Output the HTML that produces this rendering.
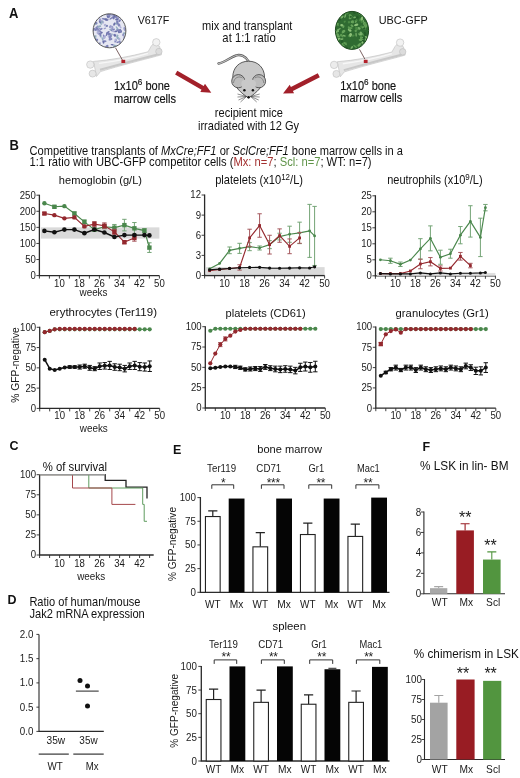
<!DOCTYPE html><html><head><meta charset="utf-8"><style>html,body{margin:0;padding:0;background:#fff;}svg{display:block;font-family:"Liberation Sans",sans-serif;filter:blur(0.35px);}</style></head><body><svg width="520" height="778" viewBox="0 0 520 778" font-family="Liberation Sans, sans-serif">
<rect width="520" height="778" fill="#fff"/>
<text transform="translate(9.00,17.60) scale(1,1.08)" font-size="13" font-weight="bold" fill="#111">A</text>
<g transform="translate(0,0)"><path d="M93.5,61.4 C110,60.2 130,56.6 148,51.8 L151.2,46.2 L153.5,43.6 L159.6,46.4 L161.4,54.8 C150,58.2 128,63.2 100.5,71.6 L96.5,76.5 Z" fill="#e6e6e6" stroke="#bdbdbd" stroke-width="0.6"/><path d="M100,69.8 C124,63.2 146,57.4 159.5,54" stroke="#c8c8c8" stroke-width="2.0" fill="none"/><path d="M99,63.4 C118,61 134,57.8 148,53.4" stroke="#f7f7f7" stroke-width="1.4" fill="none"/><circle cx="90.3" cy="64.6" r="3.7" fill="#ececec" stroke="#bdbdbd" stroke-width="0.6"/><circle cx="92.6" cy="73.6" r="3.5" fill="#e6e6e6" stroke="#bdbdbd" stroke-width="0.6"/><circle cx="156.3" cy="42.3" r="3.7" fill="#f2f2f2" stroke="#bdbdbd" stroke-width="0.6"/><circle cx="158.9" cy="51.5" r="3.2" fill="#dcdcdc" stroke="#bdbdbd" stroke-width="0.6"/></g>
<clipPath id="c1"><ellipse cx="109.5" cy="30.8" rx="16.4" ry="17.0"/></clipPath>
<ellipse cx="109.5" cy="30.8" rx="16.4" ry="17.0" fill="#e6e7f2"/>
<g clip-path="url(#c1)">
<ellipse cx="103.7" cy="18.9" rx="2.1" ry="0.8" fill="#8286bb" transform="rotate(9 103.7 18.9)"/>
<ellipse cx="112.2" cy="44.7" rx="1.6" ry="0.7" fill="#6a6fa8" transform="rotate(7 112.2 44.7)"/>
<ellipse cx="96.1" cy="28.2" rx="1.4" ry="1.1" fill="#aeb1d6" transform="rotate(22 96.1 28.2)"/>
<ellipse cx="124.2" cy="33.4" rx="1.4" ry="1.1" fill="#93adbf" transform="rotate(9 124.2 33.4)"/>
<ellipse cx="97.5" cy="28.1" rx="1.5" ry="1.3" fill="#aeb1d6" transform="rotate(21 97.5 28.1)"/>
<ellipse cx="99.0" cy="33.6" rx="1.2" ry="1.2" fill="#8286bb" transform="rotate(34 99.0 33.6)"/>
<ellipse cx="111.6" cy="34.8" rx="1.6" ry="0.9" fill="#93adbf" transform="rotate(122 111.6 34.8)"/>
<ellipse cx="112.3" cy="29.2" rx="1.3" ry="1.2" fill="#9a9dca" transform="rotate(45 112.3 29.2)"/>
<ellipse cx="95.8" cy="24.0" rx="2.0" ry="0.9" fill="#93adbf" transform="rotate(158 95.8 24.0)"/>
<ellipse cx="125.2" cy="17.8" rx="1.5" ry="1.4" fill="#93adbf" transform="rotate(30 125.2 17.8)"/>
<ellipse cx="106.9" cy="46.5" rx="1.8" ry="1.3" fill="#7c80b6" transform="rotate(138 106.9 46.5)"/>
<ellipse cx="103.4" cy="37.4" rx="2.1" ry="0.7" fill="#aeb1d6" transform="rotate(89 103.4 37.4)"/>
<ellipse cx="96.2" cy="23.0" rx="1.2" ry="1.2" fill="#8286bb" transform="rotate(120 96.2 23.0)"/>
<ellipse cx="114.3" cy="47.6" rx="1.6" ry="1.2" fill="#93adbf" transform="rotate(51 114.3 47.6)"/>
<ellipse cx="93.8" cy="29.5" rx="1.7" ry="0.9" fill="#6a6fa8" transform="rotate(110 93.8 29.5)"/>
<ellipse cx="102.5" cy="38.9" rx="2.1" ry="0.8" fill="#93adbf" transform="rotate(70 102.5 38.9)"/>
<ellipse cx="107.8" cy="32.5" rx="2.1" ry="0.9" fill="#6a6fa8" transform="rotate(147 107.8 32.5)"/>
<ellipse cx="106.7" cy="26.0" rx="1.3" ry="0.8" fill="#93adbf" transform="rotate(172 106.7 26.0)"/>
<ellipse cx="100.7" cy="21.7" rx="1.3" ry="0.9" fill="#93adbf" transform="rotate(150 100.7 21.7)"/>
<ellipse cx="97.9" cy="32.0" rx="2.2" ry="1.2" fill="#aeb1d6" transform="rotate(102 97.9 32.0)"/>
<ellipse cx="110.0" cy="34.8" rx="1.6" ry="1.3" fill="#8286bb" transform="rotate(133 110.0 34.8)"/>
<ellipse cx="124.3" cy="36.9" rx="1.6" ry="0.8" fill="#aeb1d6" transform="rotate(71 124.3 36.9)"/>
<ellipse cx="113.9" cy="15.9" rx="1.6" ry="0.8" fill="#7c80b6" transform="rotate(177 113.9 15.9)"/>
<ellipse cx="112.8" cy="17.3" rx="1.2" ry="1.0" fill="#aeb1d6" transform="rotate(27 112.8 17.3)"/>
<ellipse cx="93.9" cy="43.5" rx="1.9" ry="1.4" fill="#aeb1d6" transform="rotate(68 93.9 43.5)"/>
<ellipse cx="112.9" cy="29.9" rx="2.3" ry="1.0" fill="#7c80b6" transform="rotate(153 112.9 29.9)"/>
<ellipse cx="109.0" cy="16.7" rx="2.0" ry="1.0" fill="#7c80b6" transform="rotate(135 109.0 16.7)"/>
<ellipse cx="115.8" cy="31.4" rx="1.7" ry="0.8" fill="#6a6fa8" transform="rotate(171 115.8 31.4)"/>
<ellipse cx="110.9" cy="14.7" rx="1.9" ry="0.8" fill="#aeb1d6" transform="rotate(54 110.9 14.7)"/>
<ellipse cx="120.8" cy="31.4" rx="1.4" ry="1.1" fill="#6a6fa8" transform="rotate(64 120.8 31.4)"/>
<ellipse cx="109.6" cy="35.4" rx="2.3" ry="1.3" fill="#aeb1d6" transform="rotate(146 109.6 35.4)"/>
<ellipse cx="119.5" cy="41.6" rx="1.3" ry="1.0" fill="#8286bb" transform="rotate(145 119.5 41.6)"/>
<ellipse cx="117.1" cy="47.4" rx="1.3" ry="1.1" fill="#9a9dca" transform="rotate(85 117.1 47.4)"/>
<ellipse cx="104.4" cy="41.3" rx="2.2" ry="1.0" fill="#8286bb" transform="rotate(178 104.4 41.3)"/>
<ellipse cx="100.3" cy="21.5" rx="1.7" ry="1.4" fill="#6a6fa8" transform="rotate(61 100.3 21.5)"/>
<ellipse cx="113.1" cy="13.9" rx="1.9" ry="1.3" fill="#8286bb" transform="rotate(62 113.1 13.9)"/>
<ellipse cx="97.0" cy="27.0" rx="1.7" ry="0.8" fill="#8286bb" transform="rotate(135 97.0 27.0)"/>
<ellipse cx="119.0" cy="25.1" rx="1.6" ry="1.4" fill="#8286bb" transform="rotate(71 119.0 25.1)"/>
<ellipse cx="116.9" cy="19.6" rx="1.8" ry="1.0" fill="#6a6fa8" transform="rotate(5 116.9 19.6)"/>
<ellipse cx="114.6" cy="34.6" rx="1.9" ry="0.9" fill="#aeb1d6" transform="rotate(176 114.6 34.6)"/>
<ellipse cx="111.1" cy="18.3" rx="2.0" ry="0.8" fill="#7c80b6" transform="rotate(144 111.1 18.3)"/>
<ellipse cx="117.7" cy="18.5" rx="1.4" ry="0.9" fill="#6a6fa8" transform="rotate(149 117.7 18.5)"/>
<ellipse cx="102.7" cy="22.0" rx="1.8" ry="1.3" fill="#aeb1d6" transform="rotate(59 102.7 22.0)"/>
<ellipse cx="95.1" cy="39.0" rx="2.1" ry="1.1" fill="#93adbf" transform="rotate(119 95.1 39.0)"/>
<ellipse cx="120.2" cy="43.7" rx="1.7" ry="0.7" fill="#6a6fa8" transform="rotate(96 120.2 43.7)"/>
<ellipse cx="107.5" cy="20.0" rx="1.3" ry="0.8" fill="#7c80b6" transform="rotate(140 107.5 20.0)"/>
<ellipse cx="113.4" cy="17.9" rx="1.7" ry="1.1" fill="#7c80b6" transform="rotate(59 113.4 17.9)"/>
<ellipse cx="118.8" cy="17.4" rx="1.3" ry="0.7" fill="#aeb1d6" transform="rotate(10 118.8 17.4)"/>
<ellipse cx="96.3" cy="29.2" rx="2.2" ry="1.0" fill="#7c80b6" transform="rotate(137 96.3 29.2)"/>
<ellipse cx="113.2" cy="31.0" rx="1.4" ry="1.1" fill="#aeb1d6" transform="rotate(36 113.2 31.0)"/>
<ellipse cx="119.6" cy="31.1" rx="2.2" ry="1.4" fill="#6a6fa8" transform="rotate(126 119.6 31.1)"/>
<ellipse cx="101.6" cy="32.8" rx="1.3" ry="0.8" fill="#6a6fa8" transform="rotate(151 101.6 32.8)"/>
<ellipse cx="107.6" cy="16.3" rx="1.4" ry="0.9" fill="#6a6fa8" transform="rotate(77 107.6 16.3)"/>
<ellipse cx="97.1" cy="40.2" rx="1.5" ry="0.9" fill="#8286bb" transform="rotate(116 97.1 40.2)"/>
<ellipse cx="97.6" cy="29.7" rx="1.6" ry="1.0" fill="#8286bb" transform="rotate(171 97.6 29.7)"/>
<ellipse cx="125.6" cy="42.1" rx="2.3" ry="1.0" fill="#6a6fa8" transform="rotate(127 125.6 42.1)"/>
<ellipse cx="106.9" cy="25.9" rx="1.1" ry="1.1" fill="#7c80b6" transform="rotate(130 106.9 25.9)"/>
<ellipse cx="107.5" cy="14.4" rx="1.5" ry="1.4" fill="#9a9dca" transform="rotate(93 107.5 14.4)"/>
<ellipse cx="96.8" cy="45.0" rx="1.2" ry="0.9" fill="#6a6fa8" transform="rotate(175 96.8 45.0)"/>
<ellipse cx="94.4" cy="40.3" rx="2.1" ry="1.3" fill="#9a9dca" transform="rotate(136 94.4 40.3)"/>
<ellipse cx="115.3" cy="46.0" rx="2.2" ry="1.1" fill="#93adbf" transform="rotate(27 115.3 46.0)"/>
<ellipse cx="116.1" cy="16.8" rx="1.3" ry="1.3" fill="#7c80b6" transform="rotate(144 116.1 16.8)"/>
<ellipse cx="101.9" cy="14.4" rx="1.2" ry="1.3" fill="#7c80b6" transform="rotate(144 101.9 14.4)"/>
<ellipse cx="95.3" cy="43.1" rx="2.3" ry="1.0" fill="#93adbf" transform="rotate(2 95.3 43.1)"/>
<ellipse cx="123.1" cy="34.9" rx="1.4" ry="0.8" fill="#7c80b6" transform="rotate(95 123.1 34.9)"/>
<ellipse cx="98.4" cy="15.5" rx="1.9" ry="1.1" fill="#6a6fa8" transform="rotate(168 98.4 15.5)"/>
<ellipse cx="99.9" cy="29.0" rx="1.5" ry="0.7" fill="#8286bb" transform="rotate(32 99.9 29.0)"/>
<ellipse cx="101.3" cy="14.3" rx="2.3" ry="1.1" fill="#8286bb" transform="rotate(91 101.3 14.3)"/>
<ellipse cx="101.2" cy="29.0" rx="1.6" ry="1.0" fill="#8286bb" transform="rotate(147 101.2 29.0)"/>
<ellipse cx="120.5" cy="27.2" rx="1.4" ry="0.9" fill="#aeb1d6" transform="rotate(55 120.5 27.2)"/>
<ellipse cx="99.6" cy="43.8" rx="1.6" ry="0.9" fill="#8286bb" transform="rotate(114 99.6 43.8)"/>
<ellipse cx="94.9" cy="18.2" rx="2.2" ry="1.0" fill="#7c80b6" transform="rotate(113 94.9 18.2)"/>
<ellipse cx="94.9" cy="36.4" rx="1.9" ry="0.9" fill="#93adbf" transform="rotate(157 94.9 36.4)"/>
<ellipse cx="101.0" cy="23.8" rx="1.4" ry="0.7" fill="#93adbf" transform="rotate(33 101.0 23.8)"/>
<ellipse cx="105.0" cy="25.0" rx="1.1" ry="1.3" fill="#aeb1d6" transform="rotate(58 105.0 25.0)"/>
<ellipse cx="100.2" cy="20.0" rx="1.7" ry="1.1" fill="#9a9dca" transform="rotate(69 100.2 20.0)"/>
<ellipse cx="99.7" cy="31.0" rx="2.1" ry="0.8" fill="#7c80b6" transform="rotate(16 99.7 31.0)"/>
<ellipse cx="112.3" cy="27.2" rx="1.4" ry="1.1" fill="#9a9dca" transform="rotate(55 112.3 27.2)"/>
<ellipse cx="110.5" cy="39.3" rx="2.0" ry="1.1" fill="#8286bb" transform="rotate(161 110.5 39.3)"/>
<ellipse cx="118.2" cy="38.3" rx="2.0" ry="1.2" fill="#93adbf" transform="rotate(27 118.2 38.3)"/>
<ellipse cx="94.5" cy="42.2" rx="2.0" ry="1.3" fill="#aeb1d6" transform="rotate(113 94.5 42.2)"/>
<ellipse cx="97.7" cy="31.6" rx="2.1" ry="0.7" fill="#aeb1d6" transform="rotate(102 97.7 31.6)"/>
<ellipse cx="115.6" cy="40.9" rx="1.9" ry="0.9" fill="#8286bb" transform="rotate(123 115.6 40.9)"/>
<ellipse cx="94.1" cy="18.3" rx="1.6" ry="1.0" fill="#9a9dca" transform="rotate(173 94.1 18.3)"/>
<ellipse cx="94.8" cy="14.4" rx="1.7" ry="0.7" fill="#aeb1d6" transform="rotate(123 94.8 14.4)"/>
<ellipse cx="119.3" cy="39.2" rx="1.2" ry="1.1" fill="#aeb1d6" transform="rotate(162 119.3 39.2)"/>
<ellipse cx="117.6" cy="29.9" rx="1.4" ry="1.2" fill="#7c80b6" transform="rotate(152 117.6 29.9)"/>
<ellipse cx="100.7" cy="35.9" rx="1.6" ry="1.0" fill="#93adbf" transform="rotate(89 100.7 35.9)"/>
<ellipse cx="115.5" cy="39.9" rx="1.3" ry="1.1" fill="#aeb1d6" transform="rotate(114 115.5 39.9)"/>
<ellipse cx="104.0" cy="36.0" rx="1.8" ry="0.7" fill="#8286bb" transform="rotate(55 104.0 36.0)"/>
<ellipse cx="95.1" cy="22.9" rx="1.4" ry="1.0" fill="#8286bb" transform="rotate(18 95.1 22.9)"/>
<ellipse cx="116.4" cy="23.5" rx="1.2" ry="1.3" fill="#93adbf" transform="rotate(84 116.4 23.5)"/>
<ellipse cx="99.6" cy="47.1" rx="1.7" ry="1.3" fill="#93adbf" transform="rotate(3 99.6 47.1)"/>
<ellipse cx="124.9" cy="29.1" rx="2.2" ry="1.4" fill="#9a9dca" transform="rotate(70 124.9 29.1)"/>
<ellipse cx="95.5" cy="16.9" rx="2.2" ry="0.8" fill="#8286bb" transform="rotate(94 95.5 16.9)"/>
<ellipse cx="120.0" cy="31.1" rx="1.4" ry="1.3" fill="#7c80b6" transform="rotate(127 120.0 31.1)"/>
<ellipse cx="109.0" cy="14.6" rx="1.9" ry="1.0" fill="#7c80b6" transform="rotate(171 109.0 14.6)"/>
<ellipse cx="117.0" cy="28.0" rx="2.1" ry="0.7" fill="#93adbf" transform="rotate(57 117.0 28.0)"/>
<ellipse cx="117.7" cy="42.3" rx="1.3" ry="0.7" fill="#7c80b6" transform="rotate(169 117.7 42.3)"/>
<ellipse cx="117.4" cy="22.4" rx="2.3" ry="1.1" fill="#7c80b6" transform="rotate(71 117.4 22.4)"/>
<ellipse cx="104.9" cy="28.4" rx="1.4" ry="0.7" fill="#9a9dca" transform="rotate(154 104.9 28.4)"/>
<ellipse cx="114.8" cy="35.4" rx="1.4" ry="1.1" fill="#6a6fa8" transform="rotate(45 114.8 35.4)"/>
<ellipse cx="99.3" cy="26.5" rx="2.1" ry="1.1" fill="#93adbf" transform="rotate(159 99.3 26.5)"/>
<ellipse cx="123.1" cy="45.8" rx="1.2" ry="1.4" fill="#aeb1d6" transform="rotate(37 123.1 45.8)"/>
<ellipse cx="106.6" cy="34.7" rx="1.4" ry="0.7" fill="#6a6fa8" transform="rotate(116 106.6 34.7)"/>
<ellipse cx="123.5" cy="18.1" rx="1.4" ry="0.9" fill="#93adbf" transform="rotate(75 123.5 18.1)"/>
<ellipse cx="117.3" cy="36.0" rx="1.5" ry="1.1" fill="#93adbf" transform="rotate(118 117.3 36.0)"/>
<ellipse cx="106.0" cy="19.5" rx="1.7" ry="1.3" fill="#6a6fa8" transform="rotate(14 106.0 19.5)"/>
<ellipse cx="111.2" cy="29.2" rx="1.6" ry="0.8" fill="#9a9dca" transform="rotate(179 111.2 29.2)"/>
<ellipse cx="99.4" cy="16.9" rx="1.5" ry="1.0" fill="#9a9dca" transform="rotate(100 99.4 16.9)"/>
<ellipse cx="119.6" cy="20.7" rx="1.6" ry="1.0" fill="#7c80b6" transform="rotate(135 119.6 20.7)"/>
<ellipse cx="110.3" cy="26.6" rx="1.7" ry="1.1" fill="#9a9dca" transform="rotate(135 110.3 26.6)"/>
<ellipse cx="104.9" cy="37.1" rx="2.1" ry="0.9" fill="#aeb1d6" transform="rotate(113 104.9 37.1)"/>
<ellipse cx="102.0" cy="22.2" rx="1.6" ry="0.9" fill="#93adbf" transform="rotate(116 102.0 22.2)"/>
<ellipse cx="119.8" cy="46.7" rx="2.0" ry="1.3" fill="#6a6fa8" transform="rotate(6 119.8 46.7)"/>
<ellipse cx="108.6" cy="33.8" rx="2.2" ry="1.3" fill="#7c80b6" transform="rotate(13 108.6 33.8)"/>
<ellipse cx="110.4" cy="29.7" rx="1.2" ry="0.8" fill="#93adbf" transform="rotate(45 110.4 29.7)"/>
<ellipse cx="110.2" cy="37.0" rx="2.1" ry="1.3" fill="#8286bb" transform="rotate(126 110.2 37.0)"/>
<ellipse cx="95.9" cy="40.2" rx="1.4" ry="1.3" fill="#7c80b6" transform="rotate(141 95.9 40.2)"/>
<ellipse cx="114.3" cy="24.1" rx="1.7" ry="1.0" fill="#6a6fa8" transform="rotate(113 114.3 24.1)"/>
<ellipse cx="118.2" cy="17.2" rx="1.8" ry="1.0" fill="#9a9dca" transform="rotate(94 118.2 17.2)"/>
<ellipse cx="100.4" cy="34.2" rx="2.3" ry="0.9" fill="#7c80b6" transform="rotate(97 100.4 34.2)"/>
<ellipse cx="103.5" cy="42.3" rx="1.4" ry="0.9" fill="#6a6fa8" transform="rotate(86 103.5 42.3)"/>
<ellipse cx="124.6" cy="37.8" rx="1.3" ry="1.3" fill="#9a9dca" transform="rotate(10 124.6 37.8)"/>
<ellipse cx="114.3" cy="16.6" rx="2.2" ry="0.9" fill="#6a6fa8" transform="rotate(120 114.3 16.6)"/>
</g>
<ellipse cx="109.5" cy="30.8" rx="16.4" ry="17.0" fill="none" stroke="#5a5a5a" stroke-width="1"/>
<line x1="115.50" y1="47.80" x2="122.60" y2="60.40" stroke="#5a3a3a" stroke-width="0.8"/>
<rect x="121.4" y="59.8" width="3.8" height="3.2" fill="#b3222c"/>
<text transform="translate(137.70,24.00) scale(1,1.08)" font-size="10.8" textLength="31.7" lengthAdjust="spacingAndGlyphs" fill="#111">V617F</text>
<text transform="translate(114.00,89.60) scale(1,1.08)" font-size="11" fill="#111" stroke="#111" stroke-width="0.15">1x10<tspan font-size="8.2" dy="-4.6">6</tspan><tspan dy="4.6"> bone</tspan></text>
<text transform="translate(114.00,102.50) scale(1,1.08)" font-size="11" textLength="62" lengthAdjust="spacingAndGlyphs" fill="#111" stroke="#111" stroke-width="0.15">marrow cells</text>
<path d="M175.10,74.51 L201.54,89.72 L200.29,91.89 L211.30,92.80 L204.98,83.74 L203.73,85.91 L177.30,70.69 Z" fill="#a2202a"/>
<text transform="translate(247.20,30.20) scale(1,1.08)" font-size="11" text-anchor="middle" textLength="90.3" lengthAdjust="spacingAndGlyphs" fill="#111">mix and transplant</text>
<text transform="translate(249.00,42.30) scale(1,1.08)" font-size="11" text-anchor="middle" textLength="53.3" lengthAdjust="spacingAndGlyphs" fill="#111">at 1:1 ratio</text>
<g stroke="#4a4a4a" stroke-width="0.9">
<path d="M249,62 C246,56 240,54 236,55.5 C230,57.5 224,63 218.5,63.5" fill="none" stroke="#555" stroke-width="2.4" stroke-linecap="round"/>
<path d="M249,62 C246,56 240,54 236,55.5 C230,57.5 224,63 218.5,63.5" fill="none" stroke="#bdbdbd" stroke-width="1.1" stroke-linecap="round"/>
<path d="M248.6,61.2 C258,61.2 264.5,68 264.5,77 C264.5,86 256,93 248.6,98 C241,93 232.8,86 232.8,77 C232.8,68 239,61.2 248.6,61.2 Z" fill="#c9c9c9"/>
<circle cx="238.3" cy="81.2" r="6.6" fill="#bdbdbd"/>
<circle cx="259" cy="81.2" r="6.6" fill="#bdbdbd"/>
<path d="M233.5,83 C234,77.5 239,75.5 242.5,78" fill="none" stroke="#777" stroke-width="0.8"/>
<path d="M263.8,83 C263.3,77.5 258.3,75.5 254.8,78" fill="none" stroke="#777" stroke-width="0.8"/>
<path d="M241.5,82 C243,78 254,78 255.8,82 C257,88 252,95 248.6,98 C245,95 240.5,88 241.5,82 Z" fill="#c9c9c9" stroke="none"/>
</g>
<circle cx="244.4" cy="90.3" r="1.25" fill="#111"/>
<circle cx="252.9" cy="90.3" r="1.25" fill="#111"/>
<circle cx="248.6" cy="97.3" r="1.3" fill="#111"/>
<g stroke="#444" stroke-width="0.6" fill="none">
<line x1="246.5" y1="96.5" x2="237.5" y2="94.0"/>
<line x1="250.7" y1="96.5" x2="259.7" y2="94.0"/>
<line x1="246.5" y1="96.5" x2="237.5" y2="97.0"/>
<line x1="250.7" y1="96.5" x2="259.7" y2="97.0"/>
<line x1="246.5" y1="96.5" x2="238.5" y2="100.0"/>
<line x1="250.7" y1="96.5" x2="258.7" y2="100.0"/>
<line x1="246.5" y1="96.5" x2="240.5" y2="102.0"/>
<line x1="250.7" y1="96.5" x2="256.7" y2="102.0"/>
</g>
<text transform="translate(248.90,116.70) scale(1,1.08)" font-size="11" text-anchor="middle" textLength="68.1" lengthAdjust="spacingAndGlyphs" fill="#111">recipient mice</text>
<text transform="translate(248.50,130.20) scale(1,1.08)" font-size="11" text-anchor="middle" textLength="101" lengthAdjust="spacingAndGlyphs" fill="#111">irradiated with 12 Gy</text>
<path d="M317.79,73.24 L290.89,87.07 L289.75,84.85 L283.00,93.60 L294.04,93.21 L292.90,90.99 L319.81,77.16 Z" fill="#a2202a"/>
<g transform="translate(243.8,0.3)"><path d="M93.5,61.4 C110,60.2 130,56.6 148,51.8 L151.2,46.2 L153.5,43.6 L159.6,46.4 L161.4,54.8 C150,58.2 128,63.2 100.5,71.6 L96.5,76.5 Z" fill="#e6e6e6" stroke="#bdbdbd" stroke-width="0.6"/><path d="M100,69.8 C124,63.2 146,57.4 159.5,54" stroke="#c8c8c8" stroke-width="2.0" fill="none"/><path d="M99,63.4 C118,61 134,57.8 148,53.4" stroke="#f7f7f7" stroke-width="1.4" fill="none"/><circle cx="90.3" cy="64.6" r="3.7" fill="#ececec" stroke="#bdbdbd" stroke-width="0.6"/><circle cx="92.6" cy="73.6" r="3.5" fill="#e6e6e6" stroke="#bdbdbd" stroke-width="0.6"/><circle cx="156.3" cy="42.3" r="3.7" fill="#f2f2f2" stroke="#bdbdbd" stroke-width="0.6"/><circle cx="158.9" cy="51.5" r="3.2" fill="#dcdcdc" stroke="#bdbdbd" stroke-width="0.6"/></g>
<clipPath id="c2"><ellipse cx="352" cy="30.4" rx="16.6" ry="19.0"/></clipPath>
<ellipse cx="352" cy="30.4" rx="16.6" ry="19.0" fill="#2f6b31"/>
<g clip-path="url(#c2)">
<ellipse cx="336.5" cy="24.2" rx="1.6" ry="0.7" fill="#8cc078" transform="rotate(65 336.5 24.2)"/>
<ellipse cx="345.1" cy="43.5" rx="2.3" ry="0.9" fill="#5c9a52" transform="rotate(37 345.1 43.5)"/>
<ellipse cx="362.6" cy="20.2" rx="2.2" ry="0.8" fill="#78b06a" transform="rotate(48 362.6 20.2)"/>
<ellipse cx="356.1" cy="34.6" rx="2.2" ry="0.7" fill="#78b06a" transform="rotate(87 356.1 34.6)"/>
<ellipse cx="355.1" cy="46.4" rx="2.3" ry="0.8" fill="#5c9a52" transform="rotate(38 355.1 46.4)"/>
<ellipse cx="337.1" cy="13.7" rx="2.0" ry="0.9" fill="#8cc078" transform="rotate(81 337.1 13.7)"/>
<ellipse cx="339.2" cy="14.4" rx="1.3" ry="1.4" fill="#78b06a" transform="rotate(59 339.2 14.4)"/>
<ellipse cx="360.2" cy="12.6" rx="2.1" ry="1.4" fill="#66a35a" transform="rotate(131 360.2 12.6)"/>
<ellipse cx="350.1" cy="15.5" rx="1.5" ry="1.4" fill="#5c9a52" transform="rotate(50 350.1 15.5)"/>
<ellipse cx="339.5" cy="48.0" rx="2.0" ry="0.9" fill="#78b06a" transform="rotate(68 339.5 48.0)"/>
<ellipse cx="362.1" cy="14.7" rx="1.5" ry="1.3" fill="#66a35a" transform="rotate(85 362.1 14.7)"/>
<ellipse cx="341.8" cy="25.2" rx="1.6" ry="1.3" fill="#8cc078" transform="rotate(5 341.8 25.2)"/>
<ellipse cx="360.9" cy="12.9" rx="2.1" ry="0.7" fill="#5c9a52" transform="rotate(84 360.9 12.9)"/>
<ellipse cx="341.9" cy="13.8" rx="1.4" ry="1.4" fill="#255c28" transform="rotate(61 341.9 13.8)"/>
<ellipse cx="355.9" cy="21.4" rx="2.2" ry="0.9" fill="#66a35a" transform="rotate(124 355.9 21.4)"/>
<ellipse cx="359.4" cy="34.0" rx="1.2" ry="1.3" fill="#66a35a" transform="rotate(170 359.4 34.0)"/>
<ellipse cx="339.0" cy="38.6" rx="1.6" ry="0.9" fill="#8cc078" transform="rotate(172 339.0 38.6)"/>
<ellipse cx="349.7" cy="30.2" rx="2.1" ry="1.2" fill="#8cc078" transform="rotate(33 349.7 30.2)"/>
<ellipse cx="362.7" cy="40.8" rx="2.1" ry="1.0" fill="#255c28" transform="rotate(43 362.7 40.8)"/>
<ellipse cx="361.4" cy="34.0" rx="2.0" ry="0.9" fill="#255c28" transform="rotate(36 361.4 34.0)"/>
<ellipse cx="337.5" cy="12.7" rx="1.3" ry="1.0" fill="#255c28" transform="rotate(98 337.5 12.7)"/>
<ellipse cx="338.9" cy="14.1" rx="1.2" ry="1.0" fill="#255c28" transform="rotate(15 338.9 14.1)"/>
<ellipse cx="359.0" cy="28.4" rx="1.7" ry="1.3" fill="#78b06a" transform="rotate(24 359.0 28.4)"/>
<ellipse cx="343.2" cy="31.9" rx="2.0" ry="0.9" fill="#66a35a" transform="rotate(137 343.2 31.9)"/>
<ellipse cx="344.7" cy="21.6" rx="1.3" ry="0.9" fill="#4a8a44" transform="rotate(133 344.7 21.6)"/>
<ellipse cx="343.5" cy="17.2" rx="1.2" ry="0.9" fill="#255c28" transform="rotate(34 343.5 17.2)"/>
<ellipse cx="343.6" cy="31.4" rx="1.9" ry="1.4" fill="#66a35a" transform="rotate(146 343.6 31.4)"/>
<ellipse cx="338.8" cy="29.4" rx="2.2" ry="0.7" fill="#78b06a" transform="rotate(151 338.8 29.4)"/>
<ellipse cx="345.2" cy="15.9" rx="2.1" ry="0.8" fill="#78b06a" transform="rotate(108 345.2 15.9)"/>
<ellipse cx="337.9" cy="30.9" rx="1.4" ry="1.2" fill="#78b06a" transform="rotate(81 337.9 30.9)"/>
<ellipse cx="366.8" cy="15.4" rx="1.5" ry="0.7" fill="#255c28" transform="rotate(128 366.8 15.4)"/>
<ellipse cx="346.7" cy="13.1" rx="2.0" ry="1.3" fill="#4a8a44" transform="rotate(7 346.7 13.1)"/>
<ellipse cx="362.4" cy="42.5" rx="1.3" ry="0.9" fill="#8cc078" transform="rotate(122 362.4 42.5)"/>
<ellipse cx="342.2" cy="41.6" rx="1.6" ry="1.3" fill="#255c28" transform="rotate(87 342.2 41.6)"/>
<ellipse cx="357.4" cy="17.3" rx="1.3" ry="1.2" fill="#255c28" transform="rotate(16 357.4 17.3)"/>
<ellipse cx="349.0" cy="22.2" rx="1.2" ry="1.2" fill="#4a8a44" transform="rotate(75 349.0 22.2)"/>
<ellipse cx="364.7" cy="27.1" rx="2.3" ry="1.0" fill="#5c9a52" transform="rotate(156 364.7 27.1)"/>
<ellipse cx="341.9" cy="39.1" rx="1.6" ry="0.8" fill="#78b06a" transform="rotate(170 341.9 39.1)"/>
<ellipse cx="339.2" cy="14.8" rx="1.7" ry="0.8" fill="#255c28" transform="rotate(159 339.2 14.8)"/>
<ellipse cx="335.9" cy="32.4" rx="1.6" ry="1.1" fill="#66a35a" transform="rotate(145 335.9 32.4)"/>
<ellipse cx="366.2" cy="39.4" rx="1.4" ry="1.1" fill="#78b06a" transform="rotate(26 366.2 39.4)"/>
<ellipse cx="366.1" cy="15.5" rx="2.1" ry="1.3" fill="#8cc078" transform="rotate(136 366.1 15.5)"/>
<ellipse cx="345.4" cy="43.2" rx="1.7" ry="0.7" fill="#5c9a52" transform="rotate(176 345.4 43.2)"/>
<ellipse cx="366.1" cy="26.1" rx="2.1" ry="0.8" fill="#66a35a" transform="rotate(112 366.1 26.1)"/>
<ellipse cx="361.5" cy="19.8" rx="1.3" ry="1.0" fill="#8cc078" transform="rotate(111 361.5 19.8)"/>
<ellipse cx="354.2" cy="13.0" rx="1.5" ry="0.8" fill="#255c28" transform="rotate(28 354.2 13.0)"/>
<ellipse cx="367.6" cy="42.4" rx="1.8" ry="1.2" fill="#78b06a" transform="rotate(7 367.6 42.4)"/>
<ellipse cx="336.7" cy="43.3" rx="1.6" ry="1.3" fill="#5c9a52" transform="rotate(70 336.7 43.3)"/>
<ellipse cx="361.2" cy="36.1" rx="1.6" ry="1.2" fill="#4a8a44" transform="rotate(105 361.2 36.1)"/>
<ellipse cx="350.2" cy="28.1" rx="2.3" ry="1.0" fill="#5c9a52" transform="rotate(1 350.2 28.1)"/>
<ellipse cx="350.2" cy="34.9" rx="2.1" ry="1.0" fill="#8cc078" transform="rotate(151 350.2 34.9)"/>
<ellipse cx="337.6" cy="25.0" rx="1.6" ry="1.1" fill="#4a8a44" transform="rotate(17 337.6 25.0)"/>
<ellipse cx="336.8" cy="35.6" rx="1.5" ry="1.2" fill="#5c9a52" transform="rotate(166 336.8 35.6)"/>
<ellipse cx="338.1" cy="40.0" rx="2.0" ry="0.7" fill="#8cc078" transform="rotate(117 338.1 40.0)"/>
<ellipse cx="337.6" cy="34.7" rx="1.3" ry="1.4" fill="#66a35a" transform="rotate(147 337.6 34.7)"/>
<ellipse cx="351.7" cy="47.8" rx="2.0" ry="0.9" fill="#78b06a" transform="rotate(124 351.7 47.8)"/>
<ellipse cx="363.1" cy="34.6" rx="2.2" ry="0.9" fill="#4a8a44" transform="rotate(29 363.1 34.6)"/>
<ellipse cx="362.5" cy="16.9" rx="1.7" ry="1.1" fill="#255c28" transform="rotate(174 362.5 16.9)"/>
<ellipse cx="355.8" cy="20.4" rx="1.3" ry="0.8" fill="#4a8a44" transform="rotate(7 355.8 20.4)"/>
<ellipse cx="366.5" cy="37.2" rx="2.0" ry="0.8" fill="#8cc078" transform="rotate(30 366.5 37.2)"/>
<ellipse cx="353.0" cy="35.6" rx="1.6" ry="1.1" fill="#4a8a44" transform="rotate(174 353.0 35.6)"/>
<ellipse cx="358.3" cy="45.5" rx="1.9" ry="1.0" fill="#4a8a44" transform="rotate(179 358.3 45.5)"/>
<ellipse cx="361.9" cy="21.5" rx="1.5" ry="1.2" fill="#4a8a44" transform="rotate(104 361.9 21.5)"/>
<ellipse cx="350.1" cy="18.1" rx="1.5" ry="1.1" fill="#66a35a" transform="rotate(172 350.1 18.1)"/>
<ellipse cx="345.7" cy="48.1" rx="2.2" ry="1.2" fill="#255c28" transform="rotate(167 345.7 48.1)"/>
<ellipse cx="360.2" cy="19.8" rx="1.6" ry="1.1" fill="#4a8a44" transform="rotate(111 360.2 19.8)"/>
<ellipse cx="365.1" cy="16.4" rx="1.2" ry="0.7" fill="#78b06a" transform="rotate(110 365.1 16.4)"/>
<ellipse cx="354.2" cy="22.9" rx="1.4" ry="1.1" fill="#255c28" transform="rotate(64 354.2 22.9)"/>
<ellipse cx="355.0" cy="19.2" rx="1.3" ry="0.7" fill="#255c28" transform="rotate(149 355.0 19.2)"/>
<ellipse cx="362.0" cy="38.3" rx="1.9" ry="1.3" fill="#8cc078" transform="rotate(17 362.0 38.3)"/>
<ellipse cx="361.4" cy="26.7" rx="1.2" ry="1.3" fill="#4a8a44" transform="rotate(174 361.4 26.7)"/>
<ellipse cx="365.0" cy="34.0" rx="2.2" ry="1.2" fill="#255c28" transform="rotate(80 365.0 34.0)"/>
<ellipse cx="343.7" cy="45.7" rx="1.1" ry="0.8" fill="#5c9a52" transform="rotate(11 343.7 45.7)"/>
<ellipse cx="340.7" cy="46.0" rx="1.8" ry="1.4" fill="#5c9a52" transform="rotate(2 340.7 46.0)"/>
<ellipse cx="340.1" cy="19.0" rx="1.9" ry="1.0" fill="#255c28" transform="rotate(116 340.1 19.0)"/>
<ellipse cx="355.8" cy="30.7" rx="1.2" ry="1.3" fill="#5c9a52" transform="rotate(54 355.8 30.7)"/>
<ellipse cx="361.4" cy="38.6" rx="1.6" ry="1.3" fill="#5c9a52" transform="rotate(68 361.4 38.6)"/>
<ellipse cx="338.1" cy="36.3" rx="1.2" ry="0.9" fill="#78b06a" transform="rotate(41 338.1 36.3)"/>
<ellipse cx="336.7" cy="24.1" rx="2.2" ry="0.9" fill="#66a35a" transform="rotate(167 336.7 24.1)"/>
<ellipse cx="337.1" cy="35.6" rx="2.0" ry="1.1" fill="#66a35a" transform="rotate(78 337.1 35.6)"/>
<ellipse cx="344.2" cy="35.8" rx="1.7" ry="0.8" fill="#78b06a" transform="rotate(15 344.2 35.8)"/>
<ellipse cx="365.4" cy="43.4" rx="2.0" ry="0.9" fill="#78b06a" transform="rotate(170 365.4 43.4)"/>
<ellipse cx="364.6" cy="23.9" rx="2.1" ry="1.3" fill="#78b06a" transform="rotate(68 364.6 23.9)"/>
<ellipse cx="368.0" cy="43.4" rx="2.1" ry="1.2" fill="#255c28" transform="rotate(85 368.0 43.4)"/>
<ellipse cx="363.9" cy="28.0" rx="2.2" ry="1.3" fill="#66a35a" transform="rotate(42 363.9 28.0)"/>
<ellipse cx="348.4" cy="33.6" rx="1.3" ry="0.7" fill="#255c28" transform="rotate(164 348.4 33.6)"/>
<ellipse cx="338.9" cy="46.7" rx="1.9" ry="0.7" fill="#4a8a44" transform="rotate(176 338.9 46.7)"/>
<ellipse cx="340.0" cy="35.9" rx="2.0" ry="0.7" fill="#5c9a52" transform="rotate(125 340.0 35.9)"/>
<ellipse cx="355.0" cy="25.2" rx="1.2" ry="1.3" fill="#255c28" transform="rotate(160 355.0 25.2)"/>
<ellipse cx="365.8" cy="47.3" rx="1.3" ry="0.7" fill="#5c9a52" transform="rotate(44 365.8 47.3)"/>
<ellipse cx="366.9" cy="46.0" rx="2.0" ry="1.1" fill="#66a35a" transform="rotate(16 366.9 46.0)"/>
<ellipse cx="351.2" cy="16.4" rx="1.5" ry="1.0" fill="#66a35a" transform="rotate(37 351.2 16.4)"/>
<ellipse cx="336.1" cy="21.2" rx="2.0" ry="1.3" fill="#4a8a44" transform="rotate(9 336.1 21.2)"/>
<ellipse cx="360.9" cy="34.3" rx="1.8" ry="0.7" fill="#8cc078" transform="rotate(153 360.9 34.3)"/>
<ellipse cx="349.1" cy="28.0" rx="1.9" ry="1.1" fill="#5c9a52" transform="rotate(62 349.1 28.0)"/>
<ellipse cx="342.6" cy="44.2" rx="1.4" ry="1.0" fill="#5c9a52" transform="rotate(103 342.6 44.2)"/>
<ellipse cx="352.8" cy="22.4" rx="1.7" ry="1.0" fill="#5c9a52" transform="rotate(1 352.8 22.4)"/>
<ellipse cx="361.9" cy="18.4" rx="2.2" ry="1.1" fill="#8cc078" transform="rotate(107 361.9 18.4)"/>
<ellipse cx="354.6" cy="17.4" rx="1.4" ry="0.8" fill="#78b06a" transform="rotate(169 354.6 17.4)"/>
<ellipse cx="366.6" cy="40.5" rx="1.9" ry="1.3" fill="#8cc078" transform="rotate(142 366.6 40.5)"/>
<ellipse cx="356.2" cy="24.9" rx="2.2" ry="1.2" fill="#8cc078" transform="rotate(167 356.2 24.9)"/>
<ellipse cx="349.4" cy="35.9" rx="1.4" ry="1.3" fill="#4a8a44" transform="rotate(37 349.4 35.9)"/>
<ellipse cx="352.0" cy="25.8" rx="1.7" ry="1.1" fill="#66a35a" transform="rotate(42 352.0 25.8)"/>
<ellipse cx="360.4" cy="40.0" rx="1.8" ry="1.1" fill="#66a35a" transform="rotate(6 360.4 40.0)"/>
<ellipse cx="364.2" cy="28.5" rx="1.3" ry="1.0" fill="#255c28" transform="rotate(134 364.2 28.5)"/>
<ellipse cx="361.1" cy="33.4" rx="1.9" ry="1.2" fill="#78b06a" transform="rotate(60 361.1 33.4)"/>
<ellipse cx="352.3" cy="21.6" rx="1.8" ry="1.2" fill="#66a35a" transform="rotate(149 352.3 21.6)"/>
<ellipse cx="367.8" cy="38.9" rx="1.3" ry="0.9" fill="#255c28" transform="rotate(94 367.8 38.9)"/>
<ellipse cx="341.7" cy="48.5" rx="1.3" ry="1.2" fill="#66a35a" transform="rotate(179 341.7 48.5)"/>
<ellipse cx="341.9" cy="17.1" rx="2.0" ry="1.0" fill="#78b06a" transform="rotate(143 341.9 17.1)"/>
<ellipse cx="341.9" cy="35.6" rx="2.2" ry="1.0" fill="#5c9a52" transform="rotate(51 341.9 35.6)"/>
<ellipse cx="335.8" cy="43.9" rx="1.7" ry="1.1" fill="#8cc078" transform="rotate(125 335.8 43.9)"/>
<ellipse cx="350.8" cy="16.8" rx="1.1" ry="0.9" fill="#255c28" transform="rotate(133 350.8 16.8)"/>
<ellipse cx="363.7" cy="38.0" rx="1.6" ry="0.9" fill="#255c28" transform="rotate(135 363.7 38.0)"/>
<ellipse cx="359.4" cy="44.8" rx="2.1" ry="1.2" fill="#66a35a" transform="rotate(126 359.4 44.8)"/>
<ellipse cx="356.7" cy="28.6" rx="1.9" ry="1.3" fill="#4a8a44" transform="rotate(47 356.7 28.6)"/>
<ellipse cx="343.4" cy="26.6" rx="1.4" ry="1.0" fill="#66a35a" transform="rotate(113 343.4 26.6)"/>
<ellipse cx="350.5" cy="35.0" rx="1.9" ry="1.3" fill="#8cc078" transform="rotate(93 350.5 35.0)"/>
<ellipse cx="365.1" cy="23.9" rx="1.7" ry="1.4" fill="#5c9a52" transform="rotate(70 365.1 23.9)"/>
<ellipse cx="336.7" cy="32.0" rx="2.2" ry="0.8" fill="#78b06a" transform="rotate(129 336.7 32.0)"/>
</g>
<ellipse cx="352" cy="30.4" rx="16.6" ry="19.0" fill="none" stroke="#1f4a20" stroke-width="1"/>
<line x1="359.50" y1="49.40" x2="364.90" y2="59.20" stroke="#5a3a3a" stroke-width="0.8"/>
<rect x="363.8" y="59.8" width="3.8" height="3.2" fill="#b3222c"/>
<text transform="translate(378.70,23.70) scale(1,1.08)" font-size="10.8" textLength="49" lengthAdjust="spacingAndGlyphs" fill="#111">UBC-GFP</text>
<text transform="translate(340.20,89.70) scale(1,1.08)" font-size="11" fill="#111" stroke="#111" stroke-width="0.15">1x10<tspan font-size="8.2" dy="-4.6">6</tspan><tspan dy="4.6"> bone</tspan></text>
<text transform="translate(340.20,102.30) scale(1,1.08)" font-size="11" textLength="62" lengthAdjust="spacingAndGlyphs" fill="#111" stroke="#111" stroke-width="0.15">marrow cells</text>
<text transform="translate(9.40,150.30) scale(1,1.08)" font-size="13" font-weight="bold" fill="#111">B</text>
<text transform="translate(29.5,154.5) scale(1,1.08)" font-size="11" fill="#111" textLength="373.5" lengthAdjust="spacingAndGlyphs">Competitive transplants of <tspan font-style="italic">MxCre;FF1</tspan> or <tspan font-style="italic">SclCre;FF1</tspan> bone marrow cells in a</text>
<text transform="translate(29.5,166.4) scale(1,1.08)" font-size="11" fill="#111" textLength="342.1" lengthAdjust="spacingAndGlyphs">1:1 ratio with UBC-GFP competitor cells (<tspan fill="#a3302f">Mx: n=7</tspan>; <tspan fill="#5e9347">Scl: n=7</tspan>; WT: n=7)</text>
<text transform="translate(100.40,183.60) scale(1,1.08)" font-size="10.8" text-anchor="middle" textLength="83.2" lengthAdjust="spacingAndGlyphs" fill="#111">hemoglobin (g/L)</text>
<path d="M39.40,194.70 L39.40,275.60 L159.40,275.60" fill="none" stroke="#2a2a2a" stroke-width="1.3"/>
<line x1="39.40" y1="275.60" x2="39.40" y2="278.60" stroke="#2a2a2a" stroke-width="0.9"/>
<line x1="49.40" y1="275.60" x2="49.40" y2="278.60" stroke="#2a2a2a" stroke-width="0.9"/>
<line x1="59.40" y1="275.60" x2="59.40" y2="278.60" stroke="#2a2a2a" stroke-width="0.9"/>
<line x1="69.40" y1="275.60" x2="69.40" y2="278.60" stroke="#2a2a2a" stroke-width="0.9"/>
<line x1="79.40" y1="275.60" x2="79.40" y2="278.60" stroke="#2a2a2a" stroke-width="0.9"/>
<line x1="89.40" y1="275.60" x2="89.40" y2="278.60" stroke="#2a2a2a" stroke-width="0.9"/>
<line x1="99.40" y1="275.60" x2="99.40" y2="278.60" stroke="#2a2a2a" stroke-width="0.9"/>
<line x1="109.40" y1="275.60" x2="109.40" y2="278.60" stroke="#2a2a2a" stroke-width="0.9"/>
<line x1="119.40" y1="275.60" x2="119.40" y2="278.60" stroke="#2a2a2a" stroke-width="0.9"/>
<line x1="129.40" y1="275.60" x2="129.40" y2="278.60" stroke="#2a2a2a" stroke-width="0.9"/>
<line x1="139.40" y1="275.60" x2="139.40" y2="278.60" stroke="#2a2a2a" stroke-width="0.9"/>
<line x1="149.40" y1="275.60" x2="149.40" y2="278.60" stroke="#2a2a2a" stroke-width="0.9"/>
<line x1="159.40" y1="275.60" x2="159.40" y2="278.60" stroke="#2a2a2a" stroke-width="0.9"/>
<line x1="36.40" y1="275.60" x2="39.40" y2="275.60" stroke="#2a2a2a" stroke-width="0.9"/>
<text transform="translate(35.80,279.00) scale(1,1.08)" font-size="9.6" text-anchor="end" fill="#1a1a1a">0</text>
<line x1="36.40" y1="259.52" x2="39.40" y2="259.52" stroke="#2a2a2a" stroke-width="0.9"/>
<text transform="translate(35.80,262.92) scale(1,1.08)" font-size="9.6" text-anchor="end" fill="#1a1a1a">50</text>
<line x1="36.40" y1="243.44" x2="39.40" y2="243.44" stroke="#2a2a2a" stroke-width="0.9"/>
<text transform="translate(35.80,246.84) scale(1,1.08)" font-size="9.6" text-anchor="end" fill="#1a1a1a">100</text>
<line x1="36.40" y1="227.36" x2="39.40" y2="227.36" stroke="#2a2a2a" stroke-width="0.9"/>
<text transform="translate(35.80,230.76) scale(1,1.08)" font-size="9.6" text-anchor="end" fill="#1a1a1a">150</text>
<line x1="36.40" y1="211.28" x2="39.40" y2="211.28" stroke="#2a2a2a" stroke-width="0.9"/>
<text transform="translate(35.80,214.68) scale(1,1.08)" font-size="9.6" text-anchor="end" fill="#1a1a1a">200</text>
<line x1="36.40" y1="195.20" x2="39.40" y2="195.20" stroke="#2a2a2a" stroke-width="0.9"/>
<text transform="translate(35.80,198.60) scale(1,1.08)" font-size="9.6" text-anchor="end" fill="#1a1a1a">250</text>
<text transform="translate(59.40,287.10) scale(1,1.08)" font-size="9.6" text-anchor="middle" fill="#1a1a1a">10</text>
<text transform="translate(79.40,287.10) scale(1,1.08)" font-size="9.6" text-anchor="middle" fill="#1a1a1a">18</text>
<text transform="translate(99.40,287.10) scale(1,1.08)" font-size="9.6" text-anchor="middle" fill="#1a1a1a">26</text>
<text transform="translate(119.40,287.10) scale(1,1.08)" font-size="9.6" text-anchor="middle" fill="#1a1a1a">34</text>
<text transform="translate(139.40,287.10) scale(1,1.08)" font-size="9.6" text-anchor="middle" fill="#1a1a1a">42</text>
<text transform="translate(159.40,287.10) scale(1,1.08)" font-size="9.6" text-anchor="middle" fill="#1a1a1a">50</text>
<text transform="translate(93.50,296.40) scale(1,1.08)" font-size="10.5" text-anchor="middle" textLength="28" lengthAdjust="spacingAndGlyphs" fill="#1a1a1a">weeks</text>
<rect x="40.90" y="227.36" width="118.50" height="11.26" fill="#dadada"/>
<path d="M54.40,205.49 L54.40,208.06 M52.20,205.49 L56.60,205.49 M52.20,208.06 L56.60,208.06" stroke="#74a476" stroke-width="1.0" fill="none"/>
<path d="M74.40,211.92 L74.40,215.14 M72.20,211.92 L76.60,211.92 M72.20,215.14 L76.60,215.14" stroke="#74a476" stroke-width="1.0" fill="none"/>
<path d="M84.40,219.96 L84.40,223.82 M82.20,219.96 L86.60,219.96 M82.20,223.82 L86.60,223.82" stroke="#74a476" stroke-width="1.0" fill="none"/>
<path d="M94.40,228.00 L94.40,231.22 M92.20,228.00 L96.60,228.00 M92.20,231.22 L96.60,231.22" stroke="#74a476" stroke-width="1.0" fill="none"/>
<path d="M104.40,224.79 L104.40,228.65 M102.20,224.79 L106.60,224.79 M102.20,228.65 L106.60,228.65" stroke="#74a476" stroke-width="1.0" fill="none"/>
<path d="M114.40,224.47 L114.40,230.90 M112.20,224.47 L116.60,224.47 M112.20,230.90 L116.60,230.90" stroke="#74a476" stroke-width="1.0" fill="none"/>
<path d="M124.40,219.32 L124.40,230.90 M122.20,219.32 L126.60,219.32 M122.20,230.90 L126.60,230.90" stroke="#74a476" stroke-width="1.0" fill="none"/>
<path d="M134.40,222.54 L134.40,234.11 M132.20,222.54 L136.60,222.54 M132.20,234.11 L136.60,234.11" stroke="#74a476" stroke-width="1.0" fill="none"/>
<path d="M144.40,228.65 L144.40,232.51 M142.20,228.65 L146.60,228.65 M142.20,232.51 L146.60,232.51" stroke="#74a476" stroke-width="1.0" fill="none"/>
<path d="M149.40,242.80 L149.40,252.44 M147.20,242.80 L151.60,242.80 M147.20,252.44 L151.60,252.44" stroke="#74a476" stroke-width="1.0" fill="none"/>
<path d="M44.40,203.24 L54.40,206.78 L64.40,206.13 L74.40,213.53 L84.40,221.89 L94.40,229.61 L104.40,226.72 L114.40,227.68 L124.40,225.11 L134.40,228.32 L144.40,230.58 L149.40,247.62" fill="none" stroke="#4a874c" stroke-width="1.15"/>
<circle cx="44.40" cy="203.24" r="2.2" fill="#4a874c"/>
<rect x="52.20" y="204.58" width="4.40" height="4.40" fill="#4a874c"/>
<circle cx="64.40" cy="206.13" r="2.2" fill="#4a874c"/>
<rect x="72.20" y="211.33" width="4.40" height="4.40" fill="#4a874c"/>
<rect x="82.20" y="219.69" width="4.40" height="4.40" fill="#4a874c"/>
<rect x="92.20" y="227.41" width="4.40" height="4.40" fill="#4a874c"/>
<rect x="102.20" y="224.52" width="4.40" height="4.40" fill="#4a874c"/>
<rect x="112.20" y="225.48" width="4.40" height="4.40" fill="#4a874c"/>
<rect x="122.20" y="222.91" width="4.40" height="4.40" fill="#4a874c"/>
<rect x="132.20" y="226.12" width="4.40" height="4.40" fill="#4a874c"/>
<rect x="142.20" y="228.38" width="4.40" height="4.40" fill="#4a874c"/>
<rect x="147.20" y="245.42" width="4.40" height="4.40" fill="#4a874c"/>
<path d="M44.40,212.57 L44.40,214.50 M42.20,212.57 L46.60,212.57 M42.20,214.50 L46.60,214.50" stroke="#a5585d" stroke-width="1.0" fill="none"/>
<path d="M74.40,216.10 L74.40,218.68 M72.20,216.10 L76.60,216.10 M72.20,218.68 L76.60,218.68" stroke="#a5585d" stroke-width="1.0" fill="none"/>
<path d="M84.40,225.11 L84.40,227.68 M82.20,225.11 L86.60,225.11 M82.20,227.68 L86.60,227.68" stroke="#a5585d" stroke-width="1.0" fill="none"/>
<path d="M94.40,221.57 L94.40,226.72 M92.20,221.57 L96.60,221.57 M92.20,226.72 L96.60,226.72" stroke="#a5585d" stroke-width="1.0" fill="none"/>
<path d="M104.40,222.86 L104.40,228.65 M102.20,222.86 L106.60,222.86 M102.20,228.65 L106.60,228.65" stroke="#a5585d" stroke-width="1.0" fill="none"/>
<path d="M114.40,229.29 L114.40,234.44 M112.20,229.29 L116.60,229.29 M112.20,234.44 L116.60,234.44" stroke="#a5585d" stroke-width="1.0" fill="none"/>
<path d="M124.40,240.55 L124.40,243.76 M122.20,240.55 L126.60,240.55 M122.20,243.76 L126.60,243.76" stroke="#a5585d" stroke-width="1.0" fill="none"/>
<path d="M134.40,234.76 L134.40,241.19 M132.20,234.76 L136.60,234.76 M132.20,241.19 L136.60,241.19" stroke="#a5585d" stroke-width="1.0" fill="none"/>
<path d="M44.40,213.53 L54.40,215.14 L64.40,218.36 L74.40,217.39 L84.40,226.40 L94.40,224.14 L104.40,225.75 L114.40,231.86 L124.40,242.15 L134.40,237.97" fill="none" stroke="#94282e" stroke-width="1.15"/>
<rect x="42.20" y="211.33" width="4.40" height="4.40" fill="#94282e"/>
<circle cx="54.40" cy="215.14" r="2.2" fill="#94282e"/>
<circle cx="64.40" cy="218.36" r="2.2" fill="#94282e"/>
<circle cx="74.40" cy="217.39" r="2.2" fill="#94282e"/>
<circle cx="84.40" cy="226.40" r="2.2" fill="#94282e"/>
<rect x="92.20" y="221.94" width="4.40" height="4.40" fill="#94282e"/>
<rect x="102.20" y="223.55" width="4.40" height="4.40" fill="#94282e"/>
<rect x="112.20" y="229.66" width="4.40" height="4.40" fill="#94282e"/>
<rect x="122.20" y="239.95" width="4.40" height="4.40" fill="#94282e"/>
<rect x="132.20" y="235.77" width="4.40" height="4.40" fill="#94282e"/>
<path d="M44.40,230.90 L54.40,232.18 L64.40,229.61 L74.40,229.61 L84.40,233.15 L94.40,229.61 L104.40,232.51 L114.40,237.01 L124.40,235.08 L134.40,235.08 L144.40,235.08 L149.40,235.40" fill="none" stroke="#111" stroke-width="1.4"/>
<circle cx="44.40" cy="230.90" r="2.3" fill="#111"/>
<circle cx="54.40" cy="232.18" r="2.3" fill="#111"/>
<circle cx="64.40" cy="229.61" r="2.3" fill="#111"/>
<circle cx="74.40" cy="229.61" r="2.3" fill="#111"/>
<circle cx="84.40" cy="233.15" r="2.3" fill="#111"/>
<circle cx="94.40" cy="229.61" r="2.3" fill="#111"/>
<circle cx="104.40" cy="232.51" r="2.3" fill="#111"/>
<circle cx="114.40" cy="237.01" r="2.3" fill="#111"/>
<circle cx="124.40" cy="235.08" r="2.3" fill="#111"/>
<circle cx="134.40" cy="235.08" r="2.3" fill="#111"/>
<circle cx="144.40" cy="235.08" r="2.3" fill="#111"/>
<circle cx="149.40" cy="235.40" r="2.3" fill="#111"/>
<text transform="translate(259.10,184.40) scale(1,1.08)" font-size="11.1" text-anchor="middle" fill="#111">platelets (x10<tspan font-size="8" dy="-4.3">12</tspan><tspan dy="4.3">/L)</tspan></text>
<path d="M204.60,194.50 L204.60,275.50 L324.60,275.50" fill="none" stroke="#2a2a2a" stroke-width="1.3"/>
<line x1="204.60" y1="275.50" x2="204.60" y2="278.50" stroke="#2a2a2a" stroke-width="0.9"/>
<line x1="214.60" y1="275.50" x2="214.60" y2="278.50" stroke="#2a2a2a" stroke-width="0.9"/>
<line x1="224.60" y1="275.50" x2="224.60" y2="278.50" stroke="#2a2a2a" stroke-width="0.9"/>
<line x1="234.60" y1="275.50" x2="234.60" y2="278.50" stroke="#2a2a2a" stroke-width="0.9"/>
<line x1="244.60" y1="275.50" x2="244.60" y2="278.50" stroke="#2a2a2a" stroke-width="0.9"/>
<line x1="254.60" y1="275.50" x2="254.60" y2="278.50" stroke="#2a2a2a" stroke-width="0.9"/>
<line x1="264.60" y1="275.50" x2="264.60" y2="278.50" stroke="#2a2a2a" stroke-width="0.9"/>
<line x1="274.60" y1="275.50" x2="274.60" y2="278.50" stroke="#2a2a2a" stroke-width="0.9"/>
<line x1="284.60" y1="275.50" x2="284.60" y2="278.50" stroke="#2a2a2a" stroke-width="0.9"/>
<line x1="294.60" y1="275.50" x2="294.60" y2="278.50" stroke="#2a2a2a" stroke-width="0.9"/>
<line x1="304.60" y1="275.50" x2="304.60" y2="278.50" stroke="#2a2a2a" stroke-width="0.9"/>
<line x1="314.60" y1="275.50" x2="314.60" y2="278.50" stroke="#2a2a2a" stroke-width="0.9"/>
<line x1="324.60" y1="275.50" x2="324.60" y2="278.50" stroke="#2a2a2a" stroke-width="0.9"/>
<line x1="201.60" y1="275.50" x2="204.60" y2="275.50" stroke="#2a2a2a" stroke-width="0.9"/>
<text transform="translate(201.00,278.90) scale(1,1.08)" font-size="9.6" text-anchor="end" fill="#1a1a1a">0</text>
<line x1="201.60" y1="255.38" x2="204.60" y2="255.38" stroke="#2a2a2a" stroke-width="0.9"/>
<text transform="translate(201.00,258.77) scale(1,1.08)" font-size="9.6" text-anchor="end" fill="#1a1a1a">3</text>
<line x1="201.60" y1="235.25" x2="204.60" y2="235.25" stroke="#2a2a2a" stroke-width="0.9"/>
<text transform="translate(201.00,238.65) scale(1,1.08)" font-size="9.6" text-anchor="end" fill="#1a1a1a">6</text>
<line x1="201.60" y1="215.12" x2="204.60" y2="215.12" stroke="#2a2a2a" stroke-width="0.9"/>
<text transform="translate(201.00,218.53) scale(1,1.08)" font-size="9.6" text-anchor="end" fill="#1a1a1a">9</text>
<line x1="201.60" y1="195.00" x2="204.60" y2="195.00" stroke="#2a2a2a" stroke-width="0.9"/>
<text transform="translate(201.00,198.40) scale(1,1.08)" font-size="9.6" text-anchor="end" fill="#1a1a1a">12</text>
<text transform="translate(224.60,287.00) scale(1,1.08)" font-size="9.6" text-anchor="middle" fill="#1a1a1a">10</text>
<text transform="translate(244.60,287.00) scale(1,1.08)" font-size="9.6" text-anchor="middle" fill="#1a1a1a">18</text>
<text transform="translate(264.60,287.00) scale(1,1.08)" font-size="9.6" text-anchor="middle" fill="#1a1a1a">26</text>
<text transform="translate(284.60,287.00) scale(1,1.08)" font-size="9.6" text-anchor="middle" fill="#1a1a1a">34</text>
<text transform="translate(304.60,287.00) scale(1,1.08)" font-size="9.6" text-anchor="middle" fill="#1a1a1a">42</text>
<text transform="translate(324.60,287.00) scale(1,1.08)" font-size="9.6" text-anchor="middle" fill="#1a1a1a">50</text>
<rect x="206.10" y="267.11" width="118.50" height="7.04" fill="#dadada"/>
<path d="M229.60,246.99 L229.60,253.70 M227.40,246.99 L231.80,246.99 M227.40,253.70 L231.80,253.70" stroke="#74a476" stroke-width="1.0" fill="none"/>
<path d="M239.60,243.30 L239.60,253.36 M237.40,243.30 L241.80,243.30 M237.40,253.36 L241.80,253.36" stroke="#74a476" stroke-width="1.0" fill="none"/>
<path d="M249.60,242.63 L249.60,250.68 M247.40,242.63 L251.80,242.63 M247.40,250.68 L251.80,250.68" stroke="#74a476" stroke-width="1.0" fill="none"/>
<path d="M259.60,245.98 L259.60,250.01 M257.40,245.98 L261.80,245.98 M257.40,250.01 L261.80,250.01" stroke="#74a476" stroke-width="1.0" fill="none"/>
<path d="M269.60,240.62 L269.60,248.67 M267.40,240.62 L271.80,240.62 M267.40,248.67 L271.80,248.67" stroke="#74a476" stroke-width="1.0" fill="none"/>
<path d="M279.60,233.24 L279.60,239.95 M277.40,233.24 L281.80,233.24 M277.40,239.95 L281.80,239.95" stroke="#74a476" stroke-width="1.0" fill="none"/>
<path d="M289.60,226.19 L289.60,242.29 M287.40,226.19 L291.80,226.19 M287.40,242.29 L291.80,242.29" stroke="#74a476" stroke-width="1.0" fill="none"/>
<path d="M299.60,222.17 L299.60,243.64 M297.40,222.17 L301.80,222.17 M297.40,243.64 L301.80,243.64" stroke="#74a476" stroke-width="1.0" fill="none"/>
<path d="M309.60,204.39 L309.60,257.39 M307.40,204.39 L311.80,204.39 M307.40,257.39 L311.80,257.39" stroke="#74a476" stroke-width="1.0" fill="none"/>
<path d="M314.60,206.40 L314.60,265.44 M312.40,206.40 L316.80,206.40 M312.40,265.44 L316.80,265.44" stroke="#74a476" stroke-width="1.0" fill="none"/>
<path d="M209.60,268.79 L219.60,263.43 L229.60,250.34 L239.60,248.33 L249.60,246.65 L259.60,248.00 L269.60,244.64 L279.60,236.59 L289.60,234.24 L299.60,232.90 L309.60,230.89 L314.60,235.92" fill="none" stroke="#4a874c" stroke-width="1.15"/>
<circle cx="209.60" cy="268.79" r="1.4" fill="#4a874c"/>
<circle cx="219.60" cy="263.43" r="1.4" fill="#4a874c"/>
<circle cx="229.60" cy="250.34" r="1.4" fill="#4a874c"/>
<circle cx="239.60" cy="248.33" r="1.4" fill="#4a874c"/>
<circle cx="249.60" cy="246.65" r="1.4" fill="#4a874c"/>
<circle cx="259.60" cy="248.00" r="1.4" fill="#4a874c"/>
<circle cx="269.60" cy="244.64" r="1.4" fill="#4a874c"/>
<circle cx="279.60" cy="236.59" r="1.4" fill="#4a874c"/>
<circle cx="289.60" cy="234.24" r="1.4" fill="#4a874c"/>
<circle cx="299.60" cy="232.90" r="1.4" fill="#4a874c"/>
<circle cx="309.60" cy="230.89" r="1.4" fill="#4a874c"/>
<circle cx="314.60" cy="235.92" r="1.4" fill="#4a874c"/>
<path d="M239.60,264.77 L239.60,270.13 M237.40,264.77 L241.80,264.77 M237.40,270.13 L241.80,270.13" stroke="#a5585d" stroke-width="1.0" fill="none"/>
<path d="M249.60,229.21 L249.60,246.65 M247.40,229.21 L251.80,229.21 M247.40,246.65 L251.80,246.65" stroke="#a5585d" stroke-width="1.0" fill="none"/>
<path d="M259.60,213.78 L259.60,237.26 M257.40,213.78 L261.80,213.78 M257.40,237.26 L261.80,237.26" stroke="#a5585d" stroke-width="1.0" fill="none"/>
<path d="M269.60,235.25 L269.60,254.03 M267.40,235.25 L271.80,235.25 M267.40,254.03 L271.80,254.03" stroke="#a5585d" stroke-width="1.0" fill="none"/>
<path d="M279.60,228.88 L279.60,242.29 M277.40,228.88 L281.80,228.88 M277.40,242.29 L281.80,242.29" stroke="#a5585d" stroke-width="1.0" fill="none"/>
<path d="M289.60,238.94 L289.60,253.70 M287.40,238.94 L291.80,238.94 M287.40,253.70 L291.80,253.70" stroke="#a5585d" stroke-width="1.0" fill="none"/>
<path d="M299.60,232.57 L299.60,243.30 M297.40,232.57 L301.80,232.57 M297.40,243.30 L301.80,243.30" stroke="#a5585d" stroke-width="1.0" fill="none"/>
<path d="M209.60,270.67 L219.60,269.46 L229.60,268.46 L239.60,267.45 L249.60,237.93 L259.60,225.52 L269.60,244.64 L279.60,235.59 L289.60,246.32 L299.60,237.93" fill="none" stroke="#94282e" stroke-width="1.15"/>
<rect x="208.20" y="269.27" width="2.80" height="2.80" fill="#94282e"/>
<rect x="218.20" y="268.06" width="2.80" height="2.80" fill="#94282e"/>
<rect x="228.20" y="267.06" width="2.80" height="2.80" fill="#94282e"/>
<rect x="238.20" y="266.05" width="2.80" height="2.80" fill="#94282e"/>
<rect x="248.20" y="236.53" width="2.80" height="2.80" fill="#94282e"/>
<rect x="258.20" y="224.12" width="2.80" height="2.80" fill="#94282e"/>
<rect x="268.20" y="243.24" width="2.80" height="2.80" fill="#94282e"/>
<rect x="278.20" y="234.19" width="2.80" height="2.80" fill="#94282e"/>
<rect x="288.20" y="244.92" width="2.80" height="2.80" fill="#94282e"/>
<rect x="298.20" y="236.53" width="2.80" height="2.80" fill="#94282e"/>
<path d="M209.60,269.80 L219.60,269.13 L229.60,268.46 L239.60,267.79 L249.60,267.45 L259.60,267.32 L269.60,268.12 L279.60,268.25 L289.60,268.12 L299.60,267.79 L309.60,267.99 L314.60,266.78" fill="none" stroke="#111" stroke-width="1.15"/>
<circle cx="209.60" cy="269.80" r="1.6" fill="#111"/>
<circle cx="219.60" cy="269.13" r="1.6" fill="#111"/>
<circle cx="229.60" cy="268.46" r="1.6" fill="#111"/>
<circle cx="239.60" cy="267.79" r="1.6" fill="#111"/>
<circle cx="249.60" cy="267.45" r="1.6" fill="#111"/>
<circle cx="259.60" cy="267.32" r="1.6" fill="#111"/>
<circle cx="269.60" cy="268.12" r="1.6" fill="#111"/>
<circle cx="279.60" cy="268.25" r="1.6" fill="#111"/>
<circle cx="289.60" cy="268.12" r="1.6" fill="#111"/>
<circle cx="299.60" cy="267.79" r="1.6" fill="#111"/>
<circle cx="309.60" cy="267.99" r="1.6" fill="#111"/>
<circle cx="314.60" cy="266.78" r="1.6" fill="#111"/>
<text transform="translate(434.90,184.40) scale(1,1.08)" font-size="11.0" text-anchor="middle" fill="#111">neutrophils (x10<tspan font-size="8" dy="-4.3">9</tspan><tspan dy="4.3">/L)</tspan></text>
<path d="M375.40,195.30 L375.40,275.80 L495.40,275.80" fill="none" stroke="#2a2a2a" stroke-width="1.3"/>
<line x1="375.40" y1="275.80" x2="375.40" y2="278.80" stroke="#2a2a2a" stroke-width="0.9"/>
<line x1="385.40" y1="275.80" x2="385.40" y2="278.80" stroke="#2a2a2a" stroke-width="0.9"/>
<line x1="395.40" y1="275.80" x2="395.40" y2="278.80" stroke="#2a2a2a" stroke-width="0.9"/>
<line x1="405.40" y1="275.80" x2="405.40" y2="278.80" stroke="#2a2a2a" stroke-width="0.9"/>
<line x1="415.40" y1="275.80" x2="415.40" y2="278.80" stroke="#2a2a2a" stroke-width="0.9"/>
<line x1="425.40" y1="275.80" x2="425.40" y2="278.80" stroke="#2a2a2a" stroke-width="0.9"/>
<line x1="435.40" y1="275.80" x2="435.40" y2="278.80" stroke="#2a2a2a" stroke-width="0.9"/>
<line x1="445.40" y1="275.80" x2="445.40" y2="278.80" stroke="#2a2a2a" stroke-width="0.9"/>
<line x1="455.40" y1="275.80" x2="455.40" y2="278.80" stroke="#2a2a2a" stroke-width="0.9"/>
<line x1="465.40" y1="275.80" x2="465.40" y2="278.80" stroke="#2a2a2a" stroke-width="0.9"/>
<line x1="475.40" y1="275.80" x2="475.40" y2="278.80" stroke="#2a2a2a" stroke-width="0.9"/>
<line x1="485.40" y1="275.80" x2="485.40" y2="278.80" stroke="#2a2a2a" stroke-width="0.9"/>
<line x1="495.40" y1="275.80" x2="495.40" y2="278.80" stroke="#2a2a2a" stroke-width="0.9"/>
<line x1="372.40" y1="275.80" x2="375.40" y2="275.80" stroke="#2a2a2a" stroke-width="0.9"/>
<text transform="translate(371.80,279.20) scale(1,1.08)" font-size="9.6" text-anchor="end" fill="#1a1a1a">0</text>
<line x1="372.40" y1="259.80" x2="375.40" y2="259.80" stroke="#2a2a2a" stroke-width="0.9"/>
<text transform="translate(371.80,263.20) scale(1,1.08)" font-size="9.6" text-anchor="end" fill="#1a1a1a">5</text>
<line x1="372.40" y1="243.80" x2="375.40" y2="243.80" stroke="#2a2a2a" stroke-width="0.9"/>
<text transform="translate(371.80,247.20) scale(1,1.08)" font-size="9.6" text-anchor="end" fill="#1a1a1a">10</text>
<line x1="372.40" y1="227.80" x2="375.40" y2="227.80" stroke="#2a2a2a" stroke-width="0.9"/>
<text transform="translate(371.80,231.20) scale(1,1.08)" font-size="9.6" text-anchor="end" fill="#1a1a1a">15</text>
<line x1="372.40" y1="211.80" x2="375.40" y2="211.80" stroke="#2a2a2a" stroke-width="0.9"/>
<text transform="translate(371.80,215.20) scale(1,1.08)" font-size="9.6" text-anchor="end" fill="#1a1a1a">20</text>
<line x1="372.40" y1="195.80" x2="375.40" y2="195.80" stroke="#2a2a2a" stroke-width="0.9"/>
<text transform="translate(371.80,199.20) scale(1,1.08)" font-size="9.6" text-anchor="end" fill="#1a1a1a">25</text>
<text transform="translate(395.40,287.30) scale(1,1.08)" font-size="9.6" text-anchor="middle" fill="#1a1a1a">10</text>
<text transform="translate(415.40,287.30) scale(1,1.08)" font-size="9.6" text-anchor="middle" fill="#1a1a1a">18</text>
<text transform="translate(435.40,287.30) scale(1,1.08)" font-size="9.6" text-anchor="middle" fill="#1a1a1a">26</text>
<text transform="translate(455.40,287.30) scale(1,1.08)" font-size="9.6" text-anchor="middle" fill="#1a1a1a">34</text>
<text transform="translate(475.40,287.30) scale(1,1.08)" font-size="9.6" text-anchor="middle" fill="#1a1a1a">42</text>
<text transform="translate(495.40,287.30) scale(1,1.08)" font-size="9.6" text-anchor="middle" fill="#1a1a1a">50</text>
<rect x="376.90" y="272.92" width="118.50" height="2.88" fill="#e0e0e0"/>
<path d="M390.40,258.20 L390.40,263.32 M388.20,258.20 L392.60,258.20 M388.20,263.32 L392.60,263.32" stroke="#74a476" stroke-width="1.0" fill="none"/>
<path d="M400.40,262.04 L400.40,266.52 M398.20,262.04 L402.60,262.04 M398.20,266.52 L402.60,266.52" stroke="#74a476" stroke-width="1.0" fill="none"/>
<path d="M420.40,238.68 L420.40,259.16 M418.20,238.68 L422.60,238.68 M418.20,259.16 L422.60,259.16" stroke="#74a476" stroke-width="1.0" fill="none"/>
<path d="M430.40,225.88 L430.40,250.84 M428.20,225.88 L432.60,225.88 M428.20,250.84 L432.60,250.84" stroke="#74a476" stroke-width="1.0" fill="none"/>
<path d="M440.40,250.20 L440.40,264.28 M438.20,250.20 L442.60,250.20 M438.20,264.28 L442.60,264.28" stroke="#74a476" stroke-width="1.0" fill="none"/>
<path d="M450.40,249.24 L450.40,258.20 M448.20,249.24 L452.60,249.24 M448.20,258.20 L452.60,258.20" stroke="#74a476" stroke-width="1.0" fill="none"/>
<path d="M460.40,226.52 L460.40,243.80 M458.20,226.52 L462.60,226.52 M458.20,243.80 L462.60,243.80" stroke="#74a476" stroke-width="1.0" fill="none"/>
<path d="M470.40,205.72 L470.40,237.08 M468.20,205.72 L472.60,205.72 M468.20,237.08 L472.60,237.08" stroke="#74a476" stroke-width="1.0" fill="none"/>
<path d="M480.40,218.20 L480.40,256.60 M478.20,218.20 L482.60,218.20 M478.20,256.60 L482.60,256.60" stroke="#74a476" stroke-width="1.0" fill="none"/>
<path d="M485.40,204.44 L485.40,210.84 M483.20,204.44 L487.60,204.44 M483.20,210.84 L487.60,210.84" stroke="#74a476" stroke-width="1.0" fill="none"/>
<path d="M380.40,259.80 L390.40,260.76 L400.40,264.28 L410.40,260.12 L420.40,248.92 L430.40,238.36 L440.40,257.24 L450.40,253.72 L460.40,235.16 L470.40,221.40 L480.40,237.40 L485.40,207.64" fill="none" stroke="#4a874c" stroke-width="1.15"/>
<circle cx="380.40" cy="259.80" r="1.4" fill="#4a874c"/>
<circle cx="390.40" cy="260.76" r="1.4" fill="#4a874c"/>
<circle cx="400.40" cy="264.28" r="1.4" fill="#4a874c"/>
<circle cx="410.40" cy="260.12" r="1.4" fill="#4a874c"/>
<circle cx="420.40" cy="248.92" r="1.4" fill="#4a874c"/>
<circle cx="430.40" cy="238.36" r="1.4" fill="#4a874c"/>
<circle cx="440.40" cy="257.24" r="1.4" fill="#4a874c"/>
<circle cx="450.40" cy="253.72" r="1.4" fill="#4a874c"/>
<circle cx="460.40" cy="235.16" r="1.4" fill="#4a874c"/>
<circle cx="470.40" cy="221.40" r="1.4" fill="#4a874c"/>
<circle cx="480.40" cy="237.40" r="1.4" fill="#4a874c"/>
<circle cx="485.40" cy="207.64" r="1.4" fill="#4a874c"/>
<path d="M420.40,259.16 L420.40,268.76 M418.20,259.16 L422.60,259.16 M418.20,268.76 L422.60,268.76" stroke="#a5585d" stroke-width="1.0" fill="none"/>
<path d="M430.40,257.56 L430.40,265.88 M428.20,257.56 L432.60,257.56 M428.20,265.88 L432.60,265.88" stroke="#a5585d" stroke-width="1.0" fill="none"/>
<path d="M440.40,265.88 L440.40,271.00 M438.20,265.88 L442.60,265.88 M438.20,271.00 L442.60,271.00" stroke="#a5585d" stroke-width="1.0" fill="none"/>
<path d="M460.40,252.44 L460.40,260.12 M458.20,252.44 L462.60,252.44 M458.20,260.12 L462.60,260.12" stroke="#a5585d" stroke-width="1.0" fill="none"/>
<path d="M470.40,263.32 L470.40,267.80 M468.20,263.32 L472.60,263.32 M468.20,267.80 L472.60,267.80" stroke="#a5585d" stroke-width="1.0" fill="none"/>
<path d="M380.40,273.56 L390.40,273.56 L400.40,273.56 L410.40,271.00 L420.40,263.96 L430.40,261.72 L440.40,268.44 L450.40,268.12 L460.40,256.28 L470.40,265.56" fill="none" stroke="#94282e" stroke-width="1.15"/>
<rect x="379.00" y="272.16" width="2.80" height="2.80" fill="#94282e"/>
<rect x="389.00" y="272.16" width="2.80" height="2.80" fill="#94282e"/>
<rect x="399.00" y="272.16" width="2.80" height="2.80" fill="#94282e"/>
<rect x="409.00" y="269.60" width="2.80" height="2.80" fill="#94282e"/>
<rect x="419.00" y="262.56" width="2.80" height="2.80" fill="#94282e"/>
<rect x="429.00" y="260.32" width="2.80" height="2.80" fill="#94282e"/>
<rect x="439.00" y="267.04" width="2.80" height="2.80" fill="#94282e"/>
<rect x="449.00" y="266.72" width="2.80" height="2.80" fill="#94282e"/>
<rect x="459.00" y="254.88" width="2.80" height="2.80" fill="#94282e"/>
<rect x="469.00" y="264.16" width="2.80" height="2.80" fill="#94282e"/>
<path d="M380.40,273.56 L390.40,273.88 L400.40,273.88 L410.40,273.88 L420.40,272.92 L430.40,273.88 L440.40,272.92 L450.40,273.88 L460.40,273.24 L470.40,273.24 L480.40,272.92 L485.40,272.60" fill="none" stroke="#111" stroke-width="1.15"/>
<circle cx="380.40" cy="273.56" r="1.5" fill="#111"/>
<circle cx="390.40" cy="273.88" r="1.5" fill="#111"/>
<circle cx="400.40" cy="273.88" r="1.5" fill="#111"/>
<circle cx="410.40" cy="273.88" r="1.5" fill="#111"/>
<circle cx="420.40" cy="272.92" r="1.5" fill="#111"/>
<circle cx="430.40" cy="273.88" r="1.5" fill="#111"/>
<circle cx="440.40" cy="272.92" r="1.5" fill="#111"/>
<circle cx="450.40" cy="273.88" r="1.5" fill="#111"/>
<circle cx="460.40" cy="273.24" r="1.5" fill="#111"/>
<circle cx="470.40" cy="273.24" r="1.5" fill="#111"/>
<circle cx="480.40" cy="272.92" r="1.5" fill="#111"/>
<circle cx="485.40" cy="272.60" r="1.5" fill="#111"/>
<text transform="translate(103.20,316.30) scale(1,1.08)" font-size="10.8" text-anchor="middle" textLength="107.5" lengthAdjust="spacingAndGlyphs" fill="#111">erythrocytes (Ter119)</text>
<path d="M39.70,326.80 L39.70,408.40 L159.70,408.40" fill="none" stroke="#2a2a2a" stroke-width="1.3"/>
<line x1="39.70" y1="408.40" x2="39.70" y2="411.40" stroke="#2a2a2a" stroke-width="0.9"/>
<line x1="49.70" y1="408.40" x2="49.70" y2="411.40" stroke="#2a2a2a" stroke-width="0.9"/>
<line x1="59.70" y1="408.40" x2="59.70" y2="411.40" stroke="#2a2a2a" stroke-width="0.9"/>
<line x1="69.70" y1="408.40" x2="69.70" y2="411.40" stroke="#2a2a2a" stroke-width="0.9"/>
<line x1="79.70" y1="408.40" x2="79.70" y2="411.40" stroke="#2a2a2a" stroke-width="0.9"/>
<line x1="89.70" y1="408.40" x2="89.70" y2="411.40" stroke="#2a2a2a" stroke-width="0.9"/>
<line x1="99.70" y1="408.40" x2="99.70" y2="411.40" stroke="#2a2a2a" stroke-width="0.9"/>
<line x1="109.70" y1="408.40" x2="109.70" y2="411.40" stroke="#2a2a2a" stroke-width="0.9"/>
<line x1="119.70" y1="408.40" x2="119.70" y2="411.40" stroke="#2a2a2a" stroke-width="0.9"/>
<line x1="129.70" y1="408.40" x2="129.70" y2="411.40" stroke="#2a2a2a" stroke-width="0.9"/>
<line x1="139.70" y1="408.40" x2="139.70" y2="411.40" stroke="#2a2a2a" stroke-width="0.9"/>
<line x1="149.70" y1="408.40" x2="149.70" y2="411.40" stroke="#2a2a2a" stroke-width="0.9"/>
<line x1="159.70" y1="408.40" x2="159.70" y2="411.40" stroke="#2a2a2a" stroke-width="0.9"/>
<line x1="36.70" y1="408.40" x2="39.70" y2="408.40" stroke="#2a2a2a" stroke-width="0.9"/>
<text transform="translate(36.10,411.80) scale(1,1.08)" font-size="9.6" text-anchor="end" fill="#1a1a1a">0</text>
<line x1="36.70" y1="388.12" x2="39.70" y2="388.12" stroke="#2a2a2a" stroke-width="0.9"/>
<text transform="translate(36.10,391.52) scale(1,1.08)" font-size="9.6" text-anchor="end" fill="#1a1a1a">25</text>
<line x1="36.70" y1="367.85" x2="39.70" y2="367.85" stroke="#2a2a2a" stroke-width="0.9"/>
<text transform="translate(36.10,371.25) scale(1,1.08)" font-size="9.6" text-anchor="end" fill="#1a1a1a">50</text>
<line x1="36.70" y1="347.57" x2="39.70" y2="347.57" stroke="#2a2a2a" stroke-width="0.9"/>
<text transform="translate(36.10,350.97) scale(1,1.08)" font-size="9.6" text-anchor="end" fill="#1a1a1a">75</text>
<line x1="36.70" y1="327.30" x2="39.70" y2="327.30" stroke="#2a2a2a" stroke-width="0.9"/>
<text transform="translate(36.10,330.70) scale(1,1.08)" font-size="9.6" text-anchor="end" fill="#1a1a1a">100</text>
<text transform="translate(59.70,419.40) scale(1,1.08)" font-size="9.6" text-anchor="middle" fill="#1a1a1a">10</text>
<text transform="translate(79.70,419.40) scale(1,1.08)" font-size="9.6" text-anchor="middle" fill="#1a1a1a">18</text>
<text transform="translate(99.70,419.40) scale(1,1.08)" font-size="9.6" text-anchor="middle" fill="#1a1a1a">26</text>
<text transform="translate(119.70,419.40) scale(1,1.08)" font-size="9.6" text-anchor="middle" fill="#1a1a1a">34</text>
<text transform="translate(139.70,419.40) scale(1,1.08)" font-size="9.6" text-anchor="middle" fill="#1a1a1a">42</text>
<text transform="translate(159.70,419.40) scale(1,1.08)" font-size="9.6" text-anchor="middle" fill="#1a1a1a">50</text>
<text transform="translate(93.80,432.10) scale(1,1.08)" font-size="10.5" text-anchor="middle" textLength="28" lengthAdjust="spacingAndGlyphs" fill="#1a1a1a">weeks</text>
<text transform="translate(18.6,365) rotate(-90)" font-size="11" text-anchor="middle" fill="#1a1a1a" textLength="75.6" lengthAdjust="spacingAndGlyphs">% GFP-negative</text>
<path d="M44.70,332.17 L49.70,330.95 L54.70,329.33 L59.70,329.33 L64.70,329.33 L69.70,329.33 L74.70,329.33 L79.70,329.33 L84.70,329.33 L89.70,329.33 L94.70,329.33 L99.70,329.33 L104.70,329.33 L109.70,329.33 L114.70,329.33 L119.70,329.33 L124.70,329.33 L129.70,329.33 L134.70,329.33 L139.70,329.33 L144.70,329.33 L149.70,329.33" fill="none" stroke="#4a874c" stroke-width="1.0"/>
<circle cx="44.70" cy="332.17" r="2.1" fill="#4a874c"/>
<circle cx="49.70" cy="330.95" r="2.1" fill="#4a874c"/>
<circle cx="54.70" cy="329.33" r="2.1" fill="#4a874c"/>
<circle cx="59.70" cy="329.33" r="2.1" fill="#4a874c"/>
<circle cx="64.70" cy="329.33" r="2.1" fill="#4a874c"/>
<circle cx="69.70" cy="329.33" r="2.1" fill="#4a874c"/>
<circle cx="74.70" cy="329.33" r="2.1" fill="#4a874c"/>
<circle cx="79.70" cy="329.33" r="2.1" fill="#4a874c"/>
<circle cx="84.70" cy="329.33" r="2.1" fill="#4a874c"/>
<circle cx="89.70" cy="329.33" r="2.1" fill="#4a874c"/>
<circle cx="94.70" cy="329.33" r="2.1" fill="#4a874c"/>
<circle cx="99.70" cy="329.33" r="2.1" fill="#4a874c"/>
<circle cx="104.70" cy="329.33" r="2.1" fill="#4a874c"/>
<circle cx="109.70" cy="329.33" r="2.1" fill="#4a874c"/>
<circle cx="114.70" cy="329.33" r="2.1" fill="#4a874c"/>
<circle cx="119.70" cy="329.33" r="2.1" fill="#4a874c"/>
<circle cx="124.70" cy="329.33" r="2.1" fill="#4a874c"/>
<circle cx="129.70" cy="329.33" r="2.1" fill="#4a874c"/>
<circle cx="134.70" cy="329.33" r="2.1" fill="#4a874c"/>
<circle cx="139.70" cy="329.33" r="2.1" fill="#4a874c"/>
<circle cx="144.70" cy="329.33" r="2.1" fill="#4a874c"/>
<circle cx="149.70" cy="329.33" r="2.1" fill="#4a874c"/>
<path d="M44.70,332.17 L49.70,330.95 L54.70,329.33 L59.70,328.92 L64.70,328.92 L69.70,328.92 L74.70,328.92 L79.70,328.92 L84.70,328.92 L89.70,328.92 L94.70,328.92 L99.70,328.92 L104.70,328.92 L109.70,328.92 L114.70,328.92 L119.70,328.92 L124.70,328.92 L129.70,328.92 L134.70,328.92" fill="none" stroke="#94282e" stroke-width="1.0"/>
<circle cx="44.70" cy="332.17" r="2.1" fill="#94282e"/>
<circle cx="49.70" cy="330.95" r="2.1" fill="#94282e"/>
<circle cx="54.70" cy="329.33" r="2.1" fill="#94282e"/>
<circle cx="59.70" cy="328.92" r="2.1" fill="#94282e"/>
<circle cx="64.70" cy="328.92" r="2.1" fill="#94282e"/>
<circle cx="69.70" cy="328.92" r="2.1" fill="#94282e"/>
<circle cx="74.70" cy="328.92" r="2.1" fill="#94282e"/>
<circle cx="79.70" cy="328.92" r="2.1" fill="#94282e"/>
<circle cx="84.70" cy="328.92" r="2.1" fill="#94282e"/>
<circle cx="89.70" cy="328.92" r="2.1" fill="#94282e"/>
<circle cx="94.70" cy="328.92" r="2.1" fill="#94282e"/>
<circle cx="99.70" cy="328.92" r="2.1" fill="#94282e"/>
<circle cx="104.70" cy="328.92" r="2.1" fill="#94282e"/>
<circle cx="109.70" cy="328.92" r="2.1" fill="#94282e"/>
<circle cx="114.70" cy="328.92" r="2.1" fill="#94282e"/>
<circle cx="119.70" cy="328.92" r="2.1" fill="#94282e"/>
<circle cx="124.70" cy="328.92" r="2.1" fill="#94282e"/>
<circle cx="129.70" cy="328.92" r="2.1" fill="#94282e"/>
<circle cx="134.70" cy="328.92" r="2.1" fill="#94282e"/>
<path d="M69.70,365.82 L69.70,368.26 M67.50,365.82 L71.90,365.82 M67.50,368.26 L71.90,368.26" stroke="#111" stroke-width="1.0" fill="none"/>
<path d="M74.70,365.82 L74.70,368.26 M72.50,365.82 L76.90,365.82 M72.50,368.26 L76.90,368.26" stroke="#111" stroke-width="1.0" fill="none"/>
<path d="M79.70,365.01 L79.70,369.07 M77.50,365.01 L81.90,365.01 M77.50,369.07 L81.90,369.07" stroke="#111" stroke-width="1.0" fill="none"/>
<path d="M84.70,364.20 L84.70,368.26 M82.50,364.20 L86.90,364.20 M82.50,368.26 L86.90,368.26" stroke="#111" stroke-width="1.0" fill="none"/>
<path d="M89.70,365.42 L89.70,370.28 M87.50,365.42 L91.90,365.42 M87.50,370.28 L91.90,370.28" stroke="#111" stroke-width="1.0" fill="none"/>
<path d="M94.70,366.63 L94.70,370.69 M92.50,366.63 L96.90,366.63 M92.50,370.69 L96.90,370.69" stroke="#111" stroke-width="1.0" fill="none"/>
<path d="M99.70,362.98 L99.70,369.47 M97.50,362.98 L101.90,362.98 M97.50,369.47 L101.90,369.47" stroke="#111" stroke-width="1.0" fill="none"/>
<path d="M104.70,362.58 L104.70,369.07 M102.50,362.58 L106.90,362.58 M102.50,369.07 L106.90,369.07" stroke="#111" stroke-width="1.0" fill="none"/>
<path d="M109.70,361.36 L109.70,369.47 M107.50,361.36 L111.90,361.36 M107.50,369.47 L111.90,369.47" stroke="#111" stroke-width="1.0" fill="none"/>
<path d="M114.70,363.80 L114.70,370.28 M112.50,363.80 L116.90,363.80 M112.50,370.28 L116.90,370.28" stroke="#111" stroke-width="1.0" fill="none"/>
<path d="M119.70,364.20 L119.70,370.69 M117.50,364.20 L121.90,364.20 M117.50,370.69 L121.90,370.69" stroke="#111" stroke-width="1.0" fill="none"/>
<path d="M124.70,365.42 L124.70,371.90 M122.50,365.42 L126.90,365.42 M122.50,371.90 L126.90,371.90" stroke="#111" stroke-width="1.0" fill="none"/>
<path d="M129.70,362.98 L129.70,369.47 M127.50,362.98 L131.90,362.98 M127.50,369.47 L131.90,369.47" stroke="#111" stroke-width="1.0" fill="none"/>
<path d="M134.70,361.36 L134.70,369.47 M132.50,361.36 L136.90,361.36 M132.50,369.47 L136.90,369.47" stroke="#111" stroke-width="1.0" fill="none"/>
<path d="M139.70,362.58 L139.70,370.69 M137.50,362.58 L141.90,362.58 M137.50,370.69 L141.90,370.69" stroke="#111" stroke-width="1.0" fill="none"/>
<path d="M144.70,362.98 L144.70,371.09 M142.50,362.98 L146.90,362.98 M142.50,371.09 L146.90,371.09" stroke="#111" stroke-width="1.0" fill="none"/>
<path d="M149.70,360.96 L149.70,371.50 M147.50,360.96 L151.90,360.96 M147.50,371.50 L151.90,371.50" stroke="#111" stroke-width="1.0" fill="none"/>
<path d="M44.70,359.74 L49.70,368.66 L54.70,369.88 L59.70,368.66 L64.70,367.44 L69.70,367.04 L74.70,367.04 L79.70,367.04 L84.70,366.23 L89.70,367.85 L94.70,368.66 L99.70,366.23 L104.70,365.82 L109.70,365.42 L114.70,367.04 L119.70,367.44 L124.70,368.66 L129.70,366.23 L134.70,365.42 L139.70,366.63 L144.70,367.04 L149.70,366.23" fill="none" stroke="#111" stroke-width="1.5"/>
<circle cx="44.70" cy="359.74" r="2.0" fill="#111"/>
<circle cx="49.70" cy="368.66" r="2.0" fill="#111"/>
<circle cx="54.70" cy="369.88" r="2.0" fill="#111"/>
<circle cx="59.70" cy="368.66" r="2.0" fill="#111"/>
<circle cx="64.70" cy="367.44" r="2.0" fill="#111"/>
<circle cx="69.70" cy="367.04" r="2.0" fill="#111"/>
<circle cx="74.70" cy="367.04" r="2.0" fill="#111"/>
<circle cx="79.70" cy="367.04" r="2.0" fill="#111"/>
<circle cx="84.70" cy="366.23" r="2.0" fill="#111"/>
<circle cx="89.70" cy="367.85" r="2.0" fill="#111"/>
<circle cx="94.70" cy="368.66" r="2.0" fill="#111"/>
<circle cx="99.70" cy="366.23" r="2.0" fill="#111"/>
<circle cx="104.70" cy="365.82" r="2.0" fill="#111"/>
<circle cx="109.70" cy="365.42" r="2.0" fill="#111"/>
<circle cx="114.70" cy="367.04" r="2.0" fill="#111"/>
<circle cx="119.70" cy="367.44" r="2.0" fill="#111"/>
<circle cx="124.70" cy="368.66" r="2.0" fill="#111"/>
<circle cx="129.70" cy="366.23" r="2.0" fill="#111"/>
<circle cx="134.70" cy="365.42" r="2.0" fill="#111"/>
<circle cx="139.70" cy="366.63" r="2.0" fill="#111"/>
<circle cx="144.70" cy="367.04" r="2.0" fill="#111"/>
<circle cx="149.70" cy="366.23" r="2.0" fill="#111"/>
<text transform="translate(265.60,317.00) scale(1,1.08)" font-size="10.8" text-anchor="middle" textLength="80.1" lengthAdjust="spacingAndGlyphs" fill="#111">platelets (CD61)</text>
<path d="M205.30,326.20 L205.30,408.00 L325.30,408.00" fill="none" stroke="#2a2a2a" stroke-width="1.3"/>
<line x1="205.30" y1="408.00" x2="205.30" y2="411.00" stroke="#2a2a2a" stroke-width="0.9"/>
<line x1="215.30" y1="408.00" x2="215.30" y2="411.00" stroke="#2a2a2a" stroke-width="0.9"/>
<line x1="225.30" y1="408.00" x2="225.30" y2="411.00" stroke="#2a2a2a" stroke-width="0.9"/>
<line x1="235.30" y1="408.00" x2="235.30" y2="411.00" stroke="#2a2a2a" stroke-width="0.9"/>
<line x1="245.30" y1="408.00" x2="245.30" y2="411.00" stroke="#2a2a2a" stroke-width="0.9"/>
<line x1="255.30" y1="408.00" x2="255.30" y2="411.00" stroke="#2a2a2a" stroke-width="0.9"/>
<line x1="265.30" y1="408.00" x2="265.30" y2="411.00" stroke="#2a2a2a" stroke-width="0.9"/>
<line x1="275.30" y1="408.00" x2="275.30" y2="411.00" stroke="#2a2a2a" stroke-width="0.9"/>
<line x1="285.30" y1="408.00" x2="285.30" y2="411.00" stroke="#2a2a2a" stroke-width="0.9"/>
<line x1="295.30" y1="408.00" x2="295.30" y2="411.00" stroke="#2a2a2a" stroke-width="0.9"/>
<line x1="305.30" y1="408.00" x2="305.30" y2="411.00" stroke="#2a2a2a" stroke-width="0.9"/>
<line x1="315.30" y1="408.00" x2="315.30" y2="411.00" stroke="#2a2a2a" stroke-width="0.9"/>
<line x1="325.30" y1="408.00" x2="325.30" y2="411.00" stroke="#2a2a2a" stroke-width="0.9"/>
<line x1="202.30" y1="408.00" x2="205.30" y2="408.00" stroke="#2a2a2a" stroke-width="0.9"/>
<text transform="translate(201.70,411.40) scale(1,1.08)" font-size="9.6" text-anchor="end" fill="#1a1a1a">0</text>
<line x1="202.30" y1="387.68" x2="205.30" y2="387.68" stroke="#2a2a2a" stroke-width="0.9"/>
<text transform="translate(201.70,391.07) scale(1,1.08)" font-size="9.6" text-anchor="end" fill="#1a1a1a">25</text>
<line x1="202.30" y1="367.35" x2="205.30" y2="367.35" stroke="#2a2a2a" stroke-width="0.9"/>
<text transform="translate(201.70,370.75) scale(1,1.08)" font-size="9.6" text-anchor="end" fill="#1a1a1a">50</text>
<line x1="202.30" y1="347.02" x2="205.30" y2="347.02" stroke="#2a2a2a" stroke-width="0.9"/>
<text transform="translate(201.70,350.42) scale(1,1.08)" font-size="9.6" text-anchor="end" fill="#1a1a1a">75</text>
<line x1="202.30" y1="326.70" x2="205.30" y2="326.70" stroke="#2a2a2a" stroke-width="0.9"/>
<text transform="translate(201.70,330.10) scale(1,1.08)" font-size="9.6" text-anchor="end" fill="#1a1a1a">100</text>
<text transform="translate(225.30,419.00) scale(1,1.08)" font-size="9.6" text-anchor="middle" fill="#1a1a1a">10</text>
<text transform="translate(245.30,419.00) scale(1,1.08)" font-size="9.6" text-anchor="middle" fill="#1a1a1a">18</text>
<text transform="translate(265.30,419.00) scale(1,1.08)" font-size="9.6" text-anchor="middle" fill="#1a1a1a">26</text>
<text transform="translate(285.30,419.00) scale(1,1.08)" font-size="9.6" text-anchor="middle" fill="#1a1a1a">34</text>
<text transform="translate(305.30,419.00) scale(1,1.08)" font-size="9.6" text-anchor="middle" fill="#1a1a1a">42</text>
<text transform="translate(325.30,419.00) scale(1,1.08)" font-size="9.6" text-anchor="middle" fill="#1a1a1a">50</text>
<path d="M210.30,330.76 L215.30,328.73 L220.30,328.73 L225.30,328.73 L230.30,328.73 L235.30,328.73 L240.30,328.73 L245.30,328.73 L250.30,328.73 L255.30,328.73 L260.30,328.73 L265.30,328.73 L270.30,328.73 L275.30,328.73 L280.30,328.73 L285.30,328.73 L290.30,328.73 L295.30,328.73 L300.30,328.73 L305.30,328.73 L310.30,328.73 L315.30,328.73" fill="none" stroke="#4a874c" stroke-width="1.0"/>
<circle cx="210.30" cy="330.76" r="2.1" fill="#4a874c"/>
<circle cx="215.30" cy="328.73" r="2.1" fill="#4a874c"/>
<circle cx="220.30" cy="328.73" r="2.1" fill="#4a874c"/>
<circle cx="225.30" cy="328.73" r="2.1" fill="#4a874c"/>
<circle cx="230.30" cy="328.73" r="2.1" fill="#4a874c"/>
<circle cx="235.30" cy="328.73" r="2.1" fill="#4a874c"/>
<circle cx="240.30" cy="328.73" r="2.1" fill="#4a874c"/>
<circle cx="245.30" cy="328.73" r="2.1" fill="#4a874c"/>
<circle cx="250.30" cy="328.73" r="2.1" fill="#4a874c"/>
<circle cx="255.30" cy="328.73" r="2.1" fill="#4a874c"/>
<circle cx="260.30" cy="328.73" r="2.1" fill="#4a874c"/>
<circle cx="265.30" cy="328.73" r="2.1" fill="#4a874c"/>
<circle cx="270.30" cy="328.73" r="2.1" fill="#4a874c"/>
<circle cx="275.30" cy="328.73" r="2.1" fill="#4a874c"/>
<circle cx="280.30" cy="328.73" r="2.1" fill="#4a874c"/>
<circle cx="285.30" cy="328.73" r="2.1" fill="#4a874c"/>
<circle cx="290.30" cy="328.73" r="2.1" fill="#4a874c"/>
<circle cx="295.30" cy="328.73" r="2.1" fill="#4a874c"/>
<circle cx="300.30" cy="328.73" r="2.1" fill="#4a874c"/>
<circle cx="305.30" cy="328.73" r="2.1" fill="#4a874c"/>
<circle cx="310.30" cy="328.73" r="2.1" fill="#4a874c"/>
<circle cx="315.30" cy="328.73" r="2.1" fill="#4a874c"/>
<path d="M220.30,342.55 L220.30,346.62 M218.10,342.55 L222.50,342.55 M218.10,346.62 L222.50,346.62" stroke="#a5585d" stroke-width="1.0" fill="none"/>
<path d="M225.30,336.86 L225.30,340.93 M223.10,336.86 L227.50,336.86 M223.10,340.93 L227.50,340.93" stroke="#a5585d" stroke-width="1.0" fill="none"/>
<path d="M210.30,363.28 L215.30,353.53 L220.30,344.59 L225.30,338.89 L230.30,335.64 L235.30,331.58 L240.30,329.95 L245.30,328.73 L250.30,328.73 L255.30,328.73 L260.30,328.73 L265.30,328.73 L270.30,328.73 L275.30,328.73 L280.30,328.73 L285.30,328.73 L290.30,328.73 L295.30,328.73 L300.30,328.73" fill="none" stroke="#94282e" stroke-width="1.0"/>
<circle cx="210.30" cy="363.28" r="2.1" fill="#94282e"/>
<circle cx="215.30" cy="353.53" r="2.1" fill="#94282e"/>
<circle cx="220.30" cy="344.59" r="2.1" fill="#94282e"/>
<circle cx="225.30" cy="338.89" r="2.1" fill="#94282e"/>
<circle cx="230.30" cy="335.64" r="2.1" fill="#94282e"/>
<circle cx="235.30" cy="331.58" r="2.1" fill="#94282e"/>
<circle cx="240.30" cy="329.95" r="2.1" fill="#94282e"/>
<circle cx="245.30" cy="328.73" r="2.1" fill="#94282e"/>
<circle cx="250.30" cy="328.73" r="2.1" fill="#94282e"/>
<circle cx="255.30" cy="328.73" r="2.1" fill="#94282e"/>
<circle cx="260.30" cy="328.73" r="2.1" fill="#94282e"/>
<circle cx="265.30" cy="328.73" r="2.1" fill="#94282e"/>
<circle cx="270.30" cy="328.73" r="2.1" fill="#94282e"/>
<circle cx="275.30" cy="328.73" r="2.1" fill="#94282e"/>
<circle cx="280.30" cy="328.73" r="2.1" fill="#94282e"/>
<circle cx="285.30" cy="328.73" r="2.1" fill="#94282e"/>
<circle cx="290.30" cy="328.73" r="2.1" fill="#94282e"/>
<circle cx="295.30" cy="328.73" r="2.1" fill="#94282e"/>
<circle cx="300.30" cy="328.73" r="2.1" fill="#94282e"/>
<path d="M235.30,365.32 L235.30,368.57 M233.10,365.32 L237.50,365.32 M233.10,368.57 L237.50,368.57" stroke="#111" stroke-width="1.0" fill="none"/>
<path d="M240.30,366.13 L240.30,369.38 M238.10,366.13 L242.50,366.13 M238.10,369.38 L242.50,369.38" stroke="#111" stroke-width="1.0" fill="none"/>
<path d="M245.30,367.76 L245.30,371.01 M243.10,367.76 L247.50,367.76 M243.10,371.01 L247.50,371.01" stroke="#111" stroke-width="1.0" fill="none"/>
<path d="M250.30,366.94 L250.30,371.01 M248.10,366.94 L252.50,366.94 M248.10,371.01 L252.50,371.01" stroke="#111" stroke-width="1.0" fill="none"/>
<path d="M255.30,366.54 L255.30,370.60 M253.10,366.54 L257.50,366.54 M253.10,370.60 L257.50,370.60" stroke="#111" stroke-width="1.0" fill="none"/>
<path d="M260.30,366.54 L260.30,371.41 M258.10,366.54 L262.50,366.54 M258.10,371.41 L262.50,371.41" stroke="#111" stroke-width="1.0" fill="none"/>
<path d="M265.30,364.50 L265.30,369.38 M263.10,364.50 L267.50,364.50 M263.10,369.38 L267.50,369.38" stroke="#111" stroke-width="1.0" fill="none"/>
<path d="M270.30,365.72 L270.30,370.60 M268.10,365.72 L272.50,365.72 M268.10,370.60 L272.50,370.60" stroke="#111" stroke-width="1.0" fill="none"/>
<path d="M275.30,366.13 L275.30,371.82 M273.10,366.13 L277.50,366.13 M273.10,371.82 L277.50,371.82" stroke="#111" stroke-width="1.0" fill="none"/>
<path d="M280.30,366.13 L280.30,372.63 M278.10,366.13 L282.50,366.13 M278.10,372.63 L282.50,372.63" stroke="#111" stroke-width="1.0" fill="none"/>
<path d="M285.30,365.72 L285.30,372.23 M283.10,365.72 L287.50,365.72 M283.10,372.23 L287.50,372.23" stroke="#111" stroke-width="1.0" fill="none"/>
<path d="M290.30,366.13 L290.30,372.63 M288.10,366.13 L292.50,366.13 M288.10,372.63 L292.50,372.63" stroke="#111" stroke-width="1.0" fill="none"/>
<path d="M295.30,367.35 L295.30,373.85 M293.10,367.35 L297.50,367.35 M293.10,373.85 L297.50,373.85" stroke="#111" stroke-width="1.0" fill="none"/>
<path d="M300.30,363.28 L300.30,371.41 M298.10,363.28 L302.50,363.28 M298.10,371.41 L302.50,371.41" stroke="#111" stroke-width="1.0" fill="none"/>
<path d="M305.30,362.07 L305.30,371.01 M303.10,362.07 L307.50,362.07 M303.10,371.01 L307.50,371.01" stroke="#111" stroke-width="1.0" fill="none"/>
<path d="M310.30,362.47 L310.30,372.23 M308.10,362.47 L312.50,362.47 M308.10,372.23 L312.50,372.23" stroke="#111" stroke-width="1.0" fill="none"/>
<path d="M315.30,361.25 L315.30,371.82 M313.10,361.25 L317.50,361.25 M313.10,371.82 L317.50,371.82" stroke="#111" stroke-width="1.0" fill="none"/>
<path d="M210.30,368.16 L215.30,367.76 L220.30,366.94 L225.30,366.54 L230.30,366.54 L235.30,366.94 L240.30,367.76 L245.30,369.38 L250.30,368.98 L255.30,368.57 L260.30,368.98 L265.30,366.94 L270.30,368.16 L275.30,368.98 L280.30,369.38 L285.30,368.98 L290.30,369.38 L295.30,370.60 L300.30,367.35 L305.30,366.54 L310.30,367.35 L315.30,366.54" fill="none" stroke="#111" stroke-width="1.5"/>
<circle cx="210.30" cy="368.16" r="2.0" fill="#111"/>
<circle cx="215.30" cy="367.76" r="2.0" fill="#111"/>
<circle cx="220.30" cy="366.94" r="2.0" fill="#111"/>
<circle cx="225.30" cy="366.54" r="2.0" fill="#111"/>
<circle cx="230.30" cy="366.54" r="2.0" fill="#111"/>
<circle cx="235.30" cy="366.94" r="2.0" fill="#111"/>
<circle cx="240.30" cy="367.76" r="2.0" fill="#111"/>
<circle cx="245.30" cy="369.38" r="2.0" fill="#111"/>
<circle cx="250.30" cy="368.98" r="2.0" fill="#111"/>
<circle cx="255.30" cy="368.57" r="2.0" fill="#111"/>
<circle cx="260.30" cy="368.98" r="2.0" fill="#111"/>
<circle cx="265.30" cy="366.94" r="2.0" fill="#111"/>
<circle cx="270.30" cy="368.16" r="2.0" fill="#111"/>
<circle cx="275.30" cy="368.98" r="2.0" fill="#111"/>
<circle cx="280.30" cy="369.38" r="2.0" fill="#111"/>
<circle cx="285.30" cy="368.98" r="2.0" fill="#111"/>
<circle cx="290.30" cy="369.38" r="2.0" fill="#111"/>
<circle cx="295.30" cy="370.60" r="2.0" fill="#111"/>
<circle cx="300.30" cy="367.35" r="2.0" fill="#111"/>
<circle cx="305.30" cy="366.54" r="2.0" fill="#111"/>
<circle cx="310.30" cy="367.35" r="2.0" fill="#111"/>
<circle cx="315.30" cy="366.54" r="2.0" fill="#111"/>
<text transform="translate(442.20,317.00) scale(1,1.08)" font-size="10.8" text-anchor="middle" textLength="93.2" lengthAdjust="spacingAndGlyphs" fill="#111">granulocytes (Gr1)</text>
<path d="M375.80,326.50 L375.80,408.20 L495.80,408.20" fill="none" stroke="#2a2a2a" stroke-width="1.3"/>
<line x1="375.80" y1="408.20" x2="375.80" y2="411.20" stroke="#2a2a2a" stroke-width="0.9"/>
<line x1="385.80" y1="408.20" x2="385.80" y2="411.20" stroke="#2a2a2a" stroke-width="0.9"/>
<line x1="395.80" y1="408.20" x2="395.80" y2="411.20" stroke="#2a2a2a" stroke-width="0.9"/>
<line x1="405.80" y1="408.20" x2="405.80" y2="411.20" stroke="#2a2a2a" stroke-width="0.9"/>
<line x1="415.80" y1="408.20" x2="415.80" y2="411.20" stroke="#2a2a2a" stroke-width="0.9"/>
<line x1="425.80" y1="408.20" x2="425.80" y2="411.20" stroke="#2a2a2a" stroke-width="0.9"/>
<line x1="435.80" y1="408.20" x2="435.80" y2="411.20" stroke="#2a2a2a" stroke-width="0.9"/>
<line x1="445.80" y1="408.20" x2="445.80" y2="411.20" stroke="#2a2a2a" stroke-width="0.9"/>
<line x1="455.80" y1="408.20" x2="455.80" y2="411.20" stroke="#2a2a2a" stroke-width="0.9"/>
<line x1="465.80" y1="408.20" x2="465.80" y2="411.20" stroke="#2a2a2a" stroke-width="0.9"/>
<line x1="475.80" y1="408.20" x2="475.80" y2="411.20" stroke="#2a2a2a" stroke-width="0.9"/>
<line x1="485.80" y1="408.20" x2="485.80" y2="411.20" stroke="#2a2a2a" stroke-width="0.9"/>
<line x1="495.80" y1="408.20" x2="495.80" y2="411.20" stroke="#2a2a2a" stroke-width="0.9"/>
<line x1="372.80" y1="408.20" x2="375.80" y2="408.20" stroke="#2a2a2a" stroke-width="0.9"/>
<text transform="translate(372.20,411.60) scale(1,1.08)" font-size="9.6" text-anchor="end" fill="#1a1a1a">0</text>
<line x1="372.80" y1="387.90" x2="375.80" y2="387.90" stroke="#2a2a2a" stroke-width="0.9"/>
<text transform="translate(372.20,391.30) scale(1,1.08)" font-size="9.6" text-anchor="end" fill="#1a1a1a">25</text>
<line x1="372.80" y1="367.60" x2="375.80" y2="367.60" stroke="#2a2a2a" stroke-width="0.9"/>
<text transform="translate(372.20,371.00) scale(1,1.08)" font-size="9.6" text-anchor="end" fill="#1a1a1a">50</text>
<line x1="372.80" y1="347.30" x2="375.80" y2="347.30" stroke="#2a2a2a" stroke-width="0.9"/>
<text transform="translate(372.20,350.70) scale(1,1.08)" font-size="9.6" text-anchor="end" fill="#1a1a1a">75</text>
<line x1="372.80" y1="327.00" x2="375.80" y2="327.00" stroke="#2a2a2a" stroke-width="0.9"/>
<text transform="translate(372.20,330.40) scale(1,1.08)" font-size="9.6" text-anchor="end" fill="#1a1a1a">100</text>
<text transform="translate(395.80,419.20) scale(1,1.08)" font-size="9.6" text-anchor="middle" fill="#1a1a1a">10</text>
<text transform="translate(415.80,419.20) scale(1,1.08)" font-size="9.6" text-anchor="middle" fill="#1a1a1a">18</text>
<text transform="translate(435.80,419.20) scale(1,1.08)" font-size="9.6" text-anchor="middle" fill="#1a1a1a">26</text>
<text transform="translate(455.80,419.20) scale(1,1.08)" font-size="9.6" text-anchor="middle" fill="#1a1a1a">34</text>
<text transform="translate(475.80,419.20) scale(1,1.08)" font-size="9.6" text-anchor="middle" fill="#1a1a1a">42</text>
<text transform="translate(495.80,419.20) scale(1,1.08)" font-size="9.6" text-anchor="middle" fill="#1a1a1a">50</text>
<path d="M380.80,329.03 L385.80,329.03 L390.80,329.03 L395.80,329.03 L400.80,329.03 L405.80,329.03 L410.80,329.03 L415.80,329.03 L420.80,329.03 L425.80,329.03 L430.80,329.03 L435.80,329.03 L440.80,329.03 L445.80,329.03 L450.80,329.03 L455.80,329.03 L460.80,329.03 L465.80,329.03 L470.80,329.03 L475.80,329.03 L480.80,329.03 L485.80,329.03" fill="none" stroke="#4a874c" stroke-width="1.0"/>
<circle cx="380.80" cy="329.03" r="2.1" fill="#4a874c"/>
<circle cx="385.80" cy="329.03" r="2.1" fill="#4a874c"/>
<circle cx="390.80" cy="329.03" r="2.1" fill="#4a874c"/>
<circle cx="395.80" cy="329.03" r="2.1" fill="#4a874c"/>
<circle cx="400.80" cy="329.03" r="2.1" fill="#4a874c"/>
<circle cx="405.80" cy="329.03" r="2.1" fill="#4a874c"/>
<circle cx="410.80" cy="329.03" r="2.1" fill="#4a874c"/>
<circle cx="415.80" cy="329.03" r="2.1" fill="#4a874c"/>
<circle cx="420.80" cy="329.03" r="2.1" fill="#4a874c"/>
<circle cx="425.80" cy="329.03" r="2.1" fill="#4a874c"/>
<circle cx="430.80" cy="329.03" r="2.1" fill="#4a874c"/>
<circle cx="435.80" cy="329.03" r="2.1" fill="#4a874c"/>
<circle cx="440.80" cy="329.03" r="2.1" fill="#4a874c"/>
<circle cx="445.80" cy="329.03" r="2.1" fill="#4a874c"/>
<circle cx="450.80" cy="329.03" r="2.1" fill="#4a874c"/>
<circle cx="455.80" cy="329.03" r="2.1" fill="#4a874c"/>
<circle cx="460.80" cy="329.03" r="2.1" fill="#4a874c"/>
<circle cx="465.80" cy="329.03" r="2.1" fill="#4a874c"/>
<circle cx="470.80" cy="329.03" r="2.1" fill="#4a874c"/>
<circle cx="475.80" cy="329.03" r="2.1" fill="#4a874c"/>
<circle cx="480.80" cy="329.03" r="2.1" fill="#4a874c"/>
<circle cx="485.80" cy="329.03" r="2.1" fill="#4a874c"/>
<path d="M380.80,342.43 L380.80,345.68 M378.60,342.43 L383.00,342.43 M378.60,345.68 L383.00,345.68" stroke="#a5585d" stroke-width="1.0" fill="none"/>
<path d="M380.80,344.05 L385.80,334.31 L390.80,331.06 L395.80,329.44 L400.80,332.68 L405.80,329.03 L410.80,329.03 L415.80,329.03 L420.80,329.03 L425.80,329.03 L430.80,329.03 L435.80,329.03 L440.80,329.03 L445.80,329.03 L450.80,329.03 L455.80,329.03 L460.80,329.03 L465.80,329.03 L470.80,329.03" fill="none" stroke="#94282e" stroke-width="1.0"/>
<rect x="378.70" y="341.95" width="4.20" height="4.20" fill="#94282e"/>
<circle cx="385.80" cy="334.31" r="2.1" fill="#94282e"/>
<circle cx="390.80" cy="331.06" r="2.1" fill="#94282e"/>
<circle cx="395.80" cy="329.44" r="2.1" fill="#94282e"/>
<circle cx="400.80" cy="332.68" r="2.1" fill="#94282e"/>
<circle cx="405.80" cy="329.03" r="2.1" fill="#94282e"/>
<circle cx="410.80" cy="329.03" r="2.1" fill="#94282e"/>
<circle cx="415.80" cy="329.03" r="2.1" fill="#94282e"/>
<circle cx="420.80" cy="329.03" r="2.1" fill="#94282e"/>
<circle cx="425.80" cy="329.03" r="2.1" fill="#94282e"/>
<circle cx="430.80" cy="329.03" r="2.1" fill="#94282e"/>
<circle cx="435.80" cy="329.03" r="2.1" fill="#94282e"/>
<circle cx="440.80" cy="329.03" r="2.1" fill="#94282e"/>
<circle cx="445.80" cy="329.03" r="2.1" fill="#94282e"/>
<circle cx="450.80" cy="329.03" r="2.1" fill="#94282e"/>
<circle cx="455.80" cy="329.03" r="2.1" fill="#94282e"/>
<circle cx="460.80" cy="329.03" r="2.1" fill="#94282e"/>
<circle cx="465.80" cy="329.03" r="2.1" fill="#94282e"/>
<circle cx="470.80" cy="329.03" r="2.1" fill="#94282e"/>
<path d="M385.80,371.25 L385.80,373.69 M383.60,371.25 L388.00,371.25 M383.60,373.69 L388.00,373.69" stroke="#111" stroke-width="1.0" fill="none"/>
<path d="M390.80,367.60 L390.80,370.85 M388.60,367.60 L393.00,367.60 M388.60,370.85 L393.00,370.85" stroke="#111" stroke-width="1.0" fill="none"/>
<path d="M395.80,365.16 L395.80,370.04 M393.60,365.16 L398.00,365.16 M393.60,370.04 L398.00,370.04" stroke="#111" stroke-width="1.0" fill="none"/>
<path d="M400.80,368.41 L400.80,371.66 M398.60,368.41 L403.00,368.41 M398.60,371.66 L403.00,371.66" stroke="#111" stroke-width="1.0" fill="none"/>
<path d="M405.80,365.16 L405.80,370.04 M403.60,365.16 L408.00,365.16 M403.60,370.04 L408.00,370.04" stroke="#111" stroke-width="1.0" fill="none"/>
<path d="M410.80,365.16 L410.80,370.04 M408.60,365.16 L413.00,365.16 M408.60,370.04 L413.00,370.04" stroke="#111" stroke-width="1.0" fill="none"/>
<path d="M415.80,367.60 L415.80,372.47 M413.60,367.60 L418.00,367.60 M413.60,372.47 L418.00,372.47" stroke="#111" stroke-width="1.0" fill="none"/>
<path d="M420.80,365.16 L420.80,370.04 M418.60,365.16 L423.00,365.16 M418.60,370.04 L423.00,370.04" stroke="#111" stroke-width="1.0" fill="none"/>
<path d="M425.80,366.79 L425.80,371.66 M423.60,366.79 L428.00,366.79 M423.60,371.66 L428.00,371.66" stroke="#111" stroke-width="1.0" fill="none"/>
<path d="M430.80,367.60 L430.80,372.47 M428.60,367.60 L433.00,367.60 M428.60,372.47 L433.00,372.47" stroke="#111" stroke-width="1.0" fill="none"/>
<path d="M435.80,366.79 L435.80,371.66 M433.60,366.79 L438.00,366.79 M433.60,371.66 L438.00,371.66" stroke="#111" stroke-width="1.0" fill="none"/>
<path d="M440.80,365.98 L440.80,370.85 M438.60,365.98 L443.00,365.98 M438.60,370.85 L443.00,370.85" stroke="#111" stroke-width="1.0" fill="none"/>
<path d="M445.80,366.79 L445.80,371.66 M443.60,366.79 L448.00,366.79 M443.60,371.66 L448.00,371.66" stroke="#111" stroke-width="1.0" fill="none"/>
<path d="M450.80,365.16 L450.80,370.04 M448.60,365.16 L453.00,365.16 M448.60,370.04 L453.00,370.04" stroke="#111" stroke-width="1.0" fill="none"/>
<path d="M455.80,365.98 L455.80,370.85 M453.60,365.98 L458.00,365.98 M453.60,370.85 L458.00,370.85" stroke="#111" stroke-width="1.0" fill="none"/>
<path d="M460.80,366.79 L460.80,371.66 M458.60,366.79 L463.00,366.79 M458.60,371.66 L463.00,371.66" stroke="#111" stroke-width="1.0" fill="none"/>
<path d="M465.80,363.13 L465.80,368.82 M463.60,363.13 L468.00,363.13 M463.60,368.82 L468.00,368.82" stroke="#111" stroke-width="1.0" fill="none"/>
<path d="M470.80,364.76 L470.80,370.44 M468.60,364.76 L473.00,364.76 M468.60,370.44 L473.00,370.44" stroke="#111" stroke-width="1.0" fill="none"/>
<path d="M475.80,367.19 L475.80,374.50 M473.60,367.19 L478.00,367.19 M473.60,374.50 L478.00,374.50" stroke="#111" stroke-width="1.0" fill="none"/>
<path d="M480.80,366.79 L480.80,374.91 M478.60,366.79 L483.00,366.79 M478.60,374.91 L483.00,374.91" stroke="#111" stroke-width="1.0" fill="none"/>
<path d="M485.80,362.73 L485.80,372.47 M483.60,362.73 L488.00,362.73 M483.60,372.47 L488.00,372.47" stroke="#111" stroke-width="1.0" fill="none"/>
<path d="M380.80,375.72 L385.80,372.47 L390.80,369.22 L395.80,367.60 L400.80,370.04 L405.80,367.60 L410.80,367.60 L415.80,370.04 L420.80,367.60 L425.80,369.22 L430.80,370.04 L435.80,369.22 L440.80,368.41 L445.80,369.22 L450.80,367.60 L455.80,368.41 L460.80,369.22 L465.80,365.98 L470.80,367.60 L475.80,370.85 L480.80,370.85 L485.80,367.60" fill="none" stroke="#111" stroke-width="1.5"/>
<circle cx="380.80" cy="375.72" r="2.0" fill="#111"/>
<circle cx="385.80" cy="372.47" r="2.0" fill="#111"/>
<circle cx="390.80" cy="369.22" r="2.0" fill="#111"/>
<circle cx="395.80" cy="367.60" r="2.0" fill="#111"/>
<circle cx="400.80" cy="370.04" r="2.0" fill="#111"/>
<circle cx="405.80" cy="367.60" r="2.0" fill="#111"/>
<circle cx="410.80" cy="367.60" r="2.0" fill="#111"/>
<circle cx="415.80" cy="370.04" r="2.0" fill="#111"/>
<circle cx="420.80" cy="367.60" r="2.0" fill="#111"/>
<circle cx="425.80" cy="369.22" r="2.0" fill="#111"/>
<circle cx="430.80" cy="370.04" r="2.0" fill="#111"/>
<circle cx="435.80" cy="369.22" r="2.0" fill="#111"/>
<circle cx="440.80" cy="368.41" r="2.0" fill="#111"/>
<circle cx="445.80" cy="369.22" r="2.0" fill="#111"/>
<circle cx="450.80" cy="367.60" r="2.0" fill="#111"/>
<circle cx="455.80" cy="368.41" r="2.0" fill="#111"/>
<circle cx="460.80" cy="369.22" r="2.0" fill="#111"/>
<circle cx="465.80" cy="365.98" r="2.0" fill="#111"/>
<circle cx="470.80" cy="367.60" r="2.0" fill="#111"/>
<circle cx="475.80" cy="370.85" r="2.0" fill="#111"/>
<circle cx="480.80" cy="370.85" r="2.0" fill="#111"/>
<circle cx="485.80" cy="367.60" r="2.0" fill="#111"/>
<text transform="translate(9.50,450.20) scale(1,1.08)" font-size="12.5" font-weight="bold" fill="#111">C</text>
<text transform="translate(42.70,471.00) scale(1,1.08)" font-size="11" textLength="64.4" lengthAdjust="spacingAndGlyphs" fill="#111">% of survival</text>
<path d="M39.60,474.20 L39.60,555.00 L153.70,555.00" fill="none" stroke="#2a2a2a" stroke-width="1.3"/>
<line x1="39.60" y1="555.00" x2="39.60" y2="558.00" stroke="#2a2a2a" stroke-width="0.9"/>
<line x1="49.60" y1="555.00" x2="49.60" y2="558.00" stroke="#2a2a2a" stroke-width="0.9"/>
<line x1="59.60" y1="555.00" x2="59.60" y2="558.00" stroke="#2a2a2a" stroke-width="0.9"/>
<line x1="69.60" y1="555.00" x2="69.60" y2="558.00" stroke="#2a2a2a" stroke-width="0.9"/>
<line x1="79.60" y1="555.00" x2="79.60" y2="558.00" stroke="#2a2a2a" stroke-width="0.9"/>
<line x1="89.60" y1="555.00" x2="89.60" y2="558.00" stroke="#2a2a2a" stroke-width="0.9"/>
<line x1="99.60" y1="555.00" x2="99.60" y2="558.00" stroke="#2a2a2a" stroke-width="0.9"/>
<line x1="109.60" y1="555.00" x2="109.60" y2="558.00" stroke="#2a2a2a" stroke-width="0.9"/>
<line x1="119.60" y1="555.00" x2="119.60" y2="558.00" stroke="#2a2a2a" stroke-width="0.9"/>
<line x1="129.60" y1="555.00" x2="129.60" y2="558.00" stroke="#2a2a2a" stroke-width="0.9"/>
<line x1="139.60" y1="555.00" x2="139.60" y2="558.00" stroke="#2a2a2a" stroke-width="0.9"/>
<line x1="149.60" y1="555.00" x2="149.60" y2="558.00" stroke="#2a2a2a" stroke-width="0.9"/>
<line x1="36.60" y1="555.00" x2="39.60" y2="555.00" stroke="#2a2a2a" stroke-width="0.9"/>
<text transform="translate(36.00,558.40) scale(1,1.08)" font-size="9.6" text-anchor="end" fill="#1a1a1a">0</text>
<line x1="36.60" y1="534.92" x2="39.60" y2="534.92" stroke="#2a2a2a" stroke-width="0.9"/>
<text transform="translate(36.00,538.32) scale(1,1.08)" font-size="9.6" text-anchor="end" fill="#1a1a1a">25</text>
<line x1="36.60" y1="514.85" x2="39.60" y2="514.85" stroke="#2a2a2a" stroke-width="0.9"/>
<text transform="translate(36.00,518.25) scale(1,1.08)" font-size="9.6" text-anchor="end" fill="#1a1a1a">50</text>
<line x1="36.60" y1="494.77" x2="39.60" y2="494.77" stroke="#2a2a2a" stroke-width="0.9"/>
<text transform="translate(36.00,498.17) scale(1,1.08)" font-size="9.6" text-anchor="end" fill="#1a1a1a">75</text>
<line x1="36.60" y1="474.70" x2="39.60" y2="474.70" stroke="#2a2a2a" stroke-width="0.9"/>
<text transform="translate(36.00,478.10) scale(1,1.08)" font-size="9.6" text-anchor="end" fill="#1a1a1a">100</text>
<text transform="translate(59.60,567.00) scale(1,1.08)" font-size="9.6" text-anchor="middle" fill="#1a1a1a">10</text>
<text transform="translate(79.60,567.00) scale(1,1.08)" font-size="9.6" text-anchor="middle" fill="#1a1a1a">18</text>
<text transform="translate(99.60,567.00) scale(1,1.08)" font-size="9.6" text-anchor="middle" fill="#1a1a1a">26</text>
<text transform="translate(119.60,567.00) scale(1,1.08)" font-size="9.6" text-anchor="middle" fill="#1a1a1a">34</text>
<text transform="translate(139.60,567.00) scale(1,1.08)" font-size="9.6" text-anchor="middle" fill="#1a1a1a">42</text>
<text transform="translate(91.20,580.40) scale(1,1.08)" font-size="10.5" text-anchor="middle" textLength="28" lengthAdjust="spacingAndGlyphs" fill="#1a1a1a">weeks</text>
<path d="M39.6,474.6 L105.2,474.6 L105.2,480.4 L126,480.4 L126,487.1 L147,487.1 L147,498.6" fill="none" stroke="#222" stroke-width="1.3"/>
<path d="M39.6,474.6 L88.8,474.6 L88.8,488 L142.7,488 L142.7,504.4 L144.2,504.4 L144.2,521.3 L147,521.3" fill="none" stroke="#5f9c5f" stroke-width="1"/>
<path d="M39.6,474.6 L72.5,474.6 L72.5,488 L111.9,488 L111.9,504.4 L135.4,504.4" fill="none" stroke="#a5484c" stroke-width="1"/>
<path d="M39.6,474.6 L105.2,474.6" fill="none" stroke="#9a9a9a" stroke-width="1.2"/>
<text transform="translate(7.60,604.00) scale(1,1.08)" font-size="12.5" font-weight="bold" fill="#111">D</text>
<text transform="translate(29.40,605.50) scale(1,1.08)" font-size="11" textLength="111.1" lengthAdjust="spacingAndGlyphs" fill="#111">Ratio of human/mouse</text>
<text transform="translate(29.40,617.60) scale(1,1.08)" font-size="11" textLength="115.4" lengthAdjust="spacingAndGlyphs" fill="#111">Jak2 mRNA expression</text>
<path d="M39.0,634.4 L39.0,731.4 L103.8,731.4" fill="none" stroke="#2a2a2a" stroke-width="1.1"/>
<line x1="36.40" y1="731.40" x2="39.00" y2="731.40" stroke="#2a2a2a" stroke-width="0.9"/>
<text transform="translate(33.40,734.80) scale(1,1.08)" font-size="9.8" text-anchor="end" fill="#1a1a1a">0.0</text>
<line x1="36.40" y1="707.15" x2="39.00" y2="707.15" stroke="#2a2a2a" stroke-width="0.9"/>
<text transform="translate(33.40,710.55) scale(1,1.08)" font-size="9.8" text-anchor="end" fill="#1a1a1a">0.5</text>
<line x1="36.40" y1="682.90" x2="39.00" y2="682.90" stroke="#2a2a2a" stroke-width="0.9"/>
<text transform="translate(33.40,686.30) scale(1,1.08)" font-size="9.8" text-anchor="end" fill="#1a1a1a">1.0</text>
<line x1="36.40" y1="658.65" x2="39.00" y2="658.65" stroke="#2a2a2a" stroke-width="0.9"/>
<text transform="translate(33.40,662.05) scale(1,1.08)" font-size="9.8" text-anchor="end" fill="#1a1a1a">1.5</text>
<line x1="36.40" y1="634.40" x2="39.00" y2="634.40" stroke="#2a2a2a" stroke-width="0.9"/>
<text transform="translate(33.40,637.80) scale(1,1.08)" font-size="9.8" text-anchor="end" fill="#1a1a1a">2.0</text>
<circle cx="80" cy="680.6" r="2.5" fill="#111"/>
<circle cx="87.5" cy="686.1" r="2.5" fill="#111"/>
<circle cx="87.5" cy="706" r="2.5" fill="#111"/>
<line x1="75.90" y1="691.10" x2="98.70" y2="691.10" stroke="#222" stroke-width="1.0"/>
<text transform="translate(55.80,744.40) scale(1,1.08)" font-size="9.6" text-anchor="middle" textLength="18.7" lengthAdjust="spacingAndGlyphs" fill="#1a1a1a">35w</text>
<text transform="translate(88.50,744.40) scale(1,1.08)" font-size="9.6" text-anchor="middle" textLength="18.3" lengthAdjust="spacingAndGlyphs" fill="#1a1a1a">35w</text>
<line x1="38.70" y1="754.10" x2="68.80" y2="754.10" stroke="#222" stroke-width="1.1"/>
<line x1="73.30" y1="754.10" x2="103.70" y2="754.10" stroke="#222" stroke-width="1.1"/>
<text transform="translate(55.20,770.10) scale(1,1.08)" font-size="9.8" text-anchor="middle" textLength="15.3" lengthAdjust="spacingAndGlyphs" fill="#1a1a1a">WT</text>
<text transform="translate(92.10,770.10) scale(1,1.08)" font-size="9.8" text-anchor="middle" textLength="12.9" lengthAdjust="spacingAndGlyphs" fill="#1a1a1a">Mx</text>
<text transform="translate(173.00,453.60) scale(1,1.08)" font-size="12.5" font-weight="bold" fill="#111">E</text>
<text transform="translate(289.60,452.90) scale(1,1.08)" font-size="10.8" text-anchor="middle" textLength="64.6" lengthAdjust="spacingAndGlyphs" fill="#111">bone marrow</text>
<text transform="translate(175.6,544) rotate(-90)" font-size="11" text-anchor="middle" fill="#1a1a1a" textLength="74" lengthAdjust="spacingAndGlyphs">% GFP-negative</text>
<path d="M200.4,497.1 L200.4,592.3 L389.5,592.3" fill="none" stroke="#2a2a2a" stroke-width="1.3"/>
<line x1="197.40" y1="592.30" x2="200.40" y2="592.30" stroke="#2a2a2a" stroke-width="0.9"/>
<text transform="translate(196.00,595.80) scale(1,1.08)" font-size="9.8" text-anchor="end" fill="#1a1a1a">0</text>
<line x1="197.40" y1="568.62" x2="200.40" y2="568.62" stroke="#2a2a2a" stroke-width="0.9"/>
<text transform="translate(196.00,572.12) scale(1,1.08)" font-size="9.8" text-anchor="end" fill="#1a1a1a">25</text>
<line x1="197.40" y1="544.95" x2="200.40" y2="544.95" stroke="#2a2a2a" stroke-width="0.9"/>
<text transform="translate(196.00,548.45) scale(1,1.08)" font-size="9.8" text-anchor="end" fill="#1a1a1a">50</text>
<line x1="197.40" y1="521.27" x2="200.40" y2="521.27" stroke="#2a2a2a" stroke-width="0.9"/>
<text transform="translate(196.00,524.77) scale(1,1.08)" font-size="9.8" text-anchor="end" fill="#1a1a1a">75</text>
<line x1="197.40" y1="497.60" x2="200.40" y2="497.60" stroke="#2a2a2a" stroke-width="0.9"/>
<text transform="translate(196.00,501.10) scale(1,1.08)" font-size="9.8" text-anchor="end" fill="#1a1a1a">100</text>
<path d="M212.80,516.54 L212.80,510.86 M208.20,510.86 L217.40,510.86" stroke="#222" stroke-width="1.2" fill="none"/>
<rect x="205.45" y="516.54" width="14.70" height="75.76" fill="#fff" stroke="#222" stroke-width="1.1"/>
<rect x="228.70" y="498.55" width="15.80" height="93.75" fill="#050505"/>
<text transform="translate(221.60,472.30) scale(1,1.08)" font-size="10.0" text-anchor="middle" textLength="29.0" lengthAdjust="spacingAndGlyphs" fill="#1a1a1a">Ter119</text>
<path d="M211.80,488.80 L211.80,484.80 L233.70,484.80 L233.70,488.80" fill="none" stroke="#333" stroke-width="1.0"/>
<text transform="translate(223.25,486.60) scale(1,1.08)" font-size="12" text-anchor="middle" fill="#1a1a1a" letter-spacing="-0.3">*</text>
<text transform="translate(212.80,608.10) scale(1,1.08)" font-size="9.9" text-anchor="middle" textLength="15.5" lengthAdjust="spacingAndGlyphs" fill="#1a1a1a">WT</text>
<text transform="translate(236.60,608.10) scale(1,1.08)" font-size="9.9" text-anchor="middle" textLength="13.6" lengthAdjust="spacingAndGlyphs" fill="#1a1a1a">Mx</text>
<path d="M260.30,546.84 L260.30,532.64 M255.70,532.64 L264.90,532.64" stroke="#222" stroke-width="1.2" fill="none"/>
<rect x="252.95" y="546.84" width="14.70" height="45.46" fill="#fff" stroke="#222" stroke-width="1.1"/>
<rect x="276.20" y="498.55" width="15.80" height="93.75" fill="#050505"/>
<text transform="translate(268.80,472.30) scale(1,1.08)" font-size="10.0" text-anchor="middle" textLength="24.9" lengthAdjust="spacingAndGlyphs" fill="#1a1a1a">CD71</text>
<path d="M261.40,488.80 L261.40,484.80 L284.00,484.80 L284.00,488.80" fill="none" stroke="#333" stroke-width="1.0"/>
<text transform="translate(273.20,486.60) scale(1,1.08)" font-size="12" text-anchor="middle" fill="#1a1a1a" letter-spacing="-0.3">***</text>
<text transform="translate(260.30,608.10) scale(1,1.08)" font-size="9.9" text-anchor="middle" textLength="15.5" lengthAdjust="spacingAndGlyphs" fill="#1a1a1a">WT</text>
<text transform="translate(284.10,608.10) scale(1,1.08)" font-size="9.9" text-anchor="middle" textLength="13.6" lengthAdjust="spacingAndGlyphs" fill="#1a1a1a">Mx</text>
<path d="M307.80,534.53 L307.80,523.17 M303.20,523.17 L312.40,523.17" stroke="#222" stroke-width="1.2" fill="none"/>
<rect x="300.45" y="534.53" width="14.70" height="57.77" fill="#fff" stroke="#222" stroke-width="1.1"/>
<rect x="323.70" y="498.55" width="15.80" height="93.75" fill="#050505"/>
<text transform="translate(316.30,472.30) scale(1,1.08)" font-size="10.0" text-anchor="middle" textLength="15.6" lengthAdjust="spacingAndGlyphs" fill="#1a1a1a">Gr1</text>
<path d="M308.80,488.80 L308.80,484.80 L331.70,484.80 L331.70,488.80" fill="none" stroke="#333" stroke-width="1.0"/>
<text transform="translate(320.75,486.60) scale(1,1.08)" font-size="12" text-anchor="middle" fill="#1a1a1a" letter-spacing="-0.3">**</text>
<text transform="translate(307.80,608.10) scale(1,1.08)" font-size="9.9" text-anchor="middle" textLength="15.5" lengthAdjust="spacingAndGlyphs" fill="#1a1a1a">WT</text>
<text transform="translate(331.60,608.10) scale(1,1.08)" font-size="9.9" text-anchor="middle" textLength="13.6" lengthAdjust="spacingAndGlyphs" fill="#1a1a1a">Mx</text>
<path d="M355.30,536.43 L355.30,524.12 M350.70,524.12 L359.90,524.12" stroke="#222" stroke-width="1.2" fill="none"/>
<rect x="347.95" y="536.43" width="14.70" height="55.87" fill="#fff" stroke="#222" stroke-width="1.1"/>
<rect x="371.20" y="497.60" width="15.80" height="94.70" fill="#050505"/>
<text transform="translate(368.40,472.30) scale(1,1.08)" font-size="10.0" text-anchor="middle" textLength="22.8" lengthAdjust="spacingAndGlyphs" fill="#1a1a1a">Mac1</text>
<path d="M355.90,488.80 L355.90,484.80 L378.90,484.80 L378.90,488.80" fill="none" stroke="#333" stroke-width="1.0"/>
<text transform="translate(367.90,486.60) scale(1,1.08)" font-size="12" text-anchor="middle" fill="#1a1a1a" letter-spacing="-0.3">**</text>
<text transform="translate(355.30,608.10) scale(1,1.08)" font-size="9.9" text-anchor="middle" textLength="15.5" lengthAdjust="spacingAndGlyphs" fill="#1a1a1a">WT</text>
<text transform="translate(379.10,608.10) scale(1,1.08)" font-size="9.9" text-anchor="middle" textLength="13.6" lengthAdjust="spacingAndGlyphs" fill="#1a1a1a">Mx</text>
<text transform="translate(289.20,629.50) scale(1,1.08)" font-size="10.8" text-anchor="middle" textLength="33.5" lengthAdjust="spacingAndGlyphs" fill="#111">spleen</text>
<text transform="translate(177.8,710.8) rotate(-90)" font-size="11" text-anchor="middle" fill="#1a1a1a" textLength="74" lengthAdjust="spacingAndGlyphs">% GFP-negative</text>
<path d="M201.3,665.9 L201.3,761.0 L389.5,761.0" fill="none" stroke="#2a2a2a" stroke-width="1.3"/>
<line x1="198.30" y1="761.00" x2="201.30" y2="761.00" stroke="#2a2a2a" stroke-width="0.9"/>
<text transform="translate(196.90,764.50) scale(1,1.08)" font-size="9.8" text-anchor="end" fill="#1a1a1a">0</text>
<line x1="198.30" y1="737.35" x2="201.30" y2="737.35" stroke="#2a2a2a" stroke-width="0.9"/>
<text transform="translate(196.90,740.85) scale(1,1.08)" font-size="9.8" text-anchor="end" fill="#1a1a1a">25</text>
<line x1="198.30" y1="713.70" x2="201.30" y2="713.70" stroke="#2a2a2a" stroke-width="0.9"/>
<text transform="translate(196.90,717.20) scale(1,1.08)" font-size="9.8" text-anchor="end" fill="#1a1a1a">50</text>
<line x1="198.30" y1="690.05" x2="201.30" y2="690.05" stroke="#2a2a2a" stroke-width="0.9"/>
<text transform="translate(196.90,693.55) scale(1,1.08)" font-size="9.8" text-anchor="end" fill="#1a1a1a">75</text>
<line x1="198.30" y1="666.40" x2="201.30" y2="666.40" stroke="#2a2a2a" stroke-width="0.9"/>
<text transform="translate(196.90,669.90) scale(1,1.08)" font-size="9.8" text-anchor="end" fill="#1a1a1a">100</text>
<path d="M213.60,699.51 L213.60,689.10 M209.00,689.10 L218.20,689.10" stroke="#222" stroke-width="1.2" fill="none"/>
<rect x="206.25" y="699.51" width="14.70" height="61.49" fill="#fff" stroke="#222" stroke-width="1.1"/>
<rect x="229.50" y="666.40" width="15.80" height="94.60" fill="#050505"/>
<text transform="translate(223.40,647.80) scale(1,1.08)" font-size="10.0" text-anchor="middle" textLength="29.0" lengthAdjust="spacingAndGlyphs" fill="#1a1a1a">Ter119</text>
<path d="M214.20,663.90 L214.20,659.90 L236.70,659.90 L236.70,663.90" fill="none" stroke="#333" stroke-width="1.0"/>
<text transform="translate(225.95,661.30) scale(1,1.08)" font-size="12" text-anchor="middle" fill="#1a1a1a" letter-spacing="-0.3">**</text>
<text transform="translate(213.60,773.10) scale(1,1.08)" font-size="9.9" text-anchor="middle" textLength="15.5" lengthAdjust="spacingAndGlyphs" fill="#1a1a1a">WT</text>
<text transform="translate(237.40,773.10) scale(1,1.08)" font-size="9.9" text-anchor="middle" textLength="13.6" lengthAdjust="spacingAndGlyphs" fill="#1a1a1a">Mx</text>
<path d="M261.10,702.35 L261.10,690.05 M256.50,690.05 L265.70,690.05" stroke="#222" stroke-width="1.2" fill="none"/>
<rect x="253.75" y="702.35" width="14.70" height="58.65" fill="#fff" stroke="#222" stroke-width="1.1"/>
<rect x="277.00" y="666.40" width="15.80" height="94.60" fill="#050505"/>
<text transform="translate(270.60,647.80) scale(1,1.08)" font-size="10.0" text-anchor="middle" textLength="24.9" lengthAdjust="spacingAndGlyphs" fill="#1a1a1a">CD71</text>
<path d="M261.40,663.90 L261.40,659.90 L284.30,659.90 L284.30,663.90" fill="none" stroke="#333" stroke-width="1.0"/>
<text transform="translate(273.35,661.30) scale(1,1.08)" font-size="12" text-anchor="middle" fill="#1a1a1a" letter-spacing="-0.3">**</text>
<text transform="translate(261.10,773.10) scale(1,1.08)" font-size="9.9" text-anchor="middle" textLength="15.5" lengthAdjust="spacingAndGlyphs" fill="#1a1a1a">WT</text>
<text transform="translate(284.90,773.10) scale(1,1.08)" font-size="9.9" text-anchor="middle" textLength="13.6" lengthAdjust="spacingAndGlyphs" fill="#1a1a1a">Mx</text>
<path d="M308.60,704.24 L308.60,694.78 M304.00,694.78 L313.20,694.78" stroke="#222" stroke-width="1.2" fill="none"/>
<rect x="301.25" y="704.24" width="14.70" height="56.76" fill="#fff" stroke="#222" stroke-width="1.1"/>
<path d="M328.40,668.29 L336.40,668.29" stroke="#222" stroke-width="1" fill="none"/>
<rect x="324.50" y="669.24" width="15.80" height="91.76" fill="#050505"/>
<text transform="translate(319.00,647.80) scale(1,1.08)" font-size="10.0" text-anchor="middle" textLength="15.6" lengthAdjust="spacingAndGlyphs" fill="#1a1a1a">Gr1</text>
<path d="M309.70,663.90 L309.70,659.90 L332.70,659.90 L332.70,663.90" fill="none" stroke="#333" stroke-width="1.0"/>
<text transform="translate(321.70,661.30) scale(1,1.08)" font-size="12" text-anchor="middle" fill="#1a1a1a" letter-spacing="-0.3">**</text>
<text transform="translate(308.60,773.10) scale(1,1.08)" font-size="9.9" text-anchor="middle" textLength="15.5" lengthAdjust="spacingAndGlyphs" fill="#1a1a1a">WT</text>
<text transform="translate(332.40,773.10) scale(1,1.08)" font-size="9.9" text-anchor="middle" textLength="13.6" lengthAdjust="spacingAndGlyphs" fill="#1a1a1a">Mx</text>
<path d="M356.10,702.35 L356.10,691.00 M351.50,691.00 L360.70,691.00" stroke="#222" stroke-width="1.2" fill="none"/>
<rect x="348.75" y="702.35" width="14.70" height="58.65" fill="#fff" stroke="#222" stroke-width="1.1"/>
<rect x="372.00" y="666.87" width="15.80" height="94.13" fill="#050505"/>
<text transform="translate(370.90,647.80) scale(1,1.08)" font-size="10.0" text-anchor="middle" textLength="22.8" lengthAdjust="spacingAndGlyphs" fill="#1a1a1a">Mac1</text>
<path d="M356.40,663.90 L356.40,659.90 L379.80,659.90 L379.80,663.90" fill="none" stroke="#333" stroke-width="1.0"/>
<text transform="translate(368.60,661.30) scale(1,1.08)" font-size="12" text-anchor="middle" fill="#1a1a1a" letter-spacing="-0.3">**</text>
<text transform="translate(356.10,773.10) scale(1,1.08)" font-size="9.9" text-anchor="middle" textLength="15.5" lengthAdjust="spacingAndGlyphs" fill="#1a1a1a">WT</text>
<text transform="translate(379.90,773.10) scale(1,1.08)" font-size="9.9" text-anchor="middle" textLength="13.6" lengthAdjust="spacingAndGlyphs" fill="#1a1a1a">Mx</text>
<text transform="translate(422.50,451.30) scale(1,1.08)" font-size="12.5" font-weight="bold" fill="#111">F</text>
<text transform="translate(420.00,470.40) scale(1,1.08)" font-size="11" textLength="88.5" lengthAdjust="spacingAndGlyphs" fill="#111">% LSK in lin- BM</text>
<path d="M423.9,511.5 L423.9,593.8 L505,593.8" fill="none" stroke="#2a2a2a" stroke-width="1.1"/>
<line x1="420.90" y1="593.80" x2="423.90" y2="593.80" stroke="#2a2a2a" stroke-width="0.9"/>
<text transform="translate(421.30,597.30) scale(1,1.08)" font-size="9.8" text-anchor="end" fill="#1a1a1a">0</text>
<line x1="420.90" y1="573.35" x2="423.90" y2="573.35" stroke="#2a2a2a" stroke-width="0.9"/>
<text transform="translate(421.30,576.85) scale(1,1.08)" font-size="9.8" text-anchor="end" fill="#1a1a1a">2</text>
<line x1="420.90" y1="552.90" x2="423.90" y2="552.90" stroke="#2a2a2a" stroke-width="0.9"/>
<text transform="translate(421.30,556.40) scale(1,1.08)" font-size="9.8" text-anchor="end" fill="#1a1a1a">4</text>
<line x1="420.90" y1="532.45" x2="423.90" y2="532.45" stroke="#2a2a2a" stroke-width="0.9"/>
<text transform="translate(421.30,535.95) scale(1,1.08)" font-size="9.8" text-anchor="end" fill="#1a1a1a">6</text>
<line x1="420.90" y1="512.00" x2="423.90" y2="512.00" stroke="#2a2a2a" stroke-width="0.9"/>
<text transform="translate(421.30,515.50) scale(1,1.08)" font-size="9.8" text-anchor="end" fill="#1a1a1a">8</text>
<path d="M438.65,588.18 L438.65,586.64 M434.15,586.64 L443.15,586.64" stroke="#a8a8a8" stroke-width="1.1" fill="none"/>
<rect x="430.00" y="588.18" width="17.30" height="5.62" fill="#a8a8a8"/>
<path d="M465.10,530.40 L465.10,523.76 M460.60,523.76 L469.60,523.76" stroke="#981c23" stroke-width="1.1" fill="none"/>
<rect x="456.30" y="530.40" width="17.60" height="63.39" fill="#981c23"/>
<text transform="translate(465.30,522.50) scale(1,1.08)" font-size="16" text-anchor="middle" fill="#1a1a1a">**</text>
<path d="M491.80,559.55 L491.80,551.88 M487.30,551.88 L496.30,551.88" stroke="#52953f" stroke-width="1.1" fill="none"/>
<rect x="483.00" y="559.55" width="17.60" height="34.25" fill="#52953f"/>
<text transform="translate(490.40,550.80) scale(1,1.08)" font-size="16" text-anchor="middle" fill="#1a1a1a">**</text>
<text transform="translate(439.80,606.30) scale(1,1.08)" font-size="10.2" text-anchor="middle" fill="#1a1a1a">WT</text>
<text transform="translate(466.30,606.30) scale(1,1.08)" font-size="10.2" text-anchor="middle" fill="#1a1a1a">Mx</text>
<text transform="translate(493.20,606.30) scale(1,1.08)" font-size="10.2" text-anchor="middle" fill="#1a1a1a">Scl</text>
<text transform="translate(413.80,658.40) scale(1,1.08)" font-size="11" textLength="105" lengthAdjust="spacingAndGlyphs" fill="#111">% chimerism in LSK</text>
<path d="M424.5,679.0 L424.5,759.5 L505,759.5" fill="none" stroke="#2a2a2a" stroke-width="1.1"/>
<line x1="421.50" y1="759.50" x2="424.50" y2="759.50" stroke="#2a2a2a" stroke-width="0.9"/>
<text transform="translate(421.90,763.00) scale(1,1.08)" font-size="9.8" text-anchor="end" fill="#1a1a1a">0</text>
<line x1="421.50" y1="739.50" x2="424.50" y2="739.50" stroke="#2a2a2a" stroke-width="0.9"/>
<text transform="translate(421.90,743.00) scale(1,1.08)" font-size="9.8" text-anchor="end" fill="#1a1a1a">25</text>
<line x1="421.50" y1="719.50" x2="424.50" y2="719.50" stroke="#2a2a2a" stroke-width="0.9"/>
<text transform="translate(421.90,723.00) scale(1,1.08)" font-size="9.8" text-anchor="end" fill="#1a1a1a">50</text>
<line x1="421.50" y1="699.50" x2="424.50" y2="699.50" stroke="#2a2a2a" stroke-width="0.9"/>
<text transform="translate(421.90,703.00) scale(1,1.08)" font-size="9.8" text-anchor="end" fill="#1a1a1a">75</text>
<line x1="421.50" y1="679.50" x2="424.50" y2="679.50" stroke="#2a2a2a" stroke-width="0.9"/>
<text transform="translate(421.90,683.00) scale(1,1.08)" font-size="9.8" text-anchor="end" fill="#1a1a1a">100</text>
<path d="M438.80,702.70 L438.80,695.50 M434.30,695.50 L443.30,695.50" stroke="#a3a3a3" stroke-width="1.1" fill="none"/>
<rect x="430.00" y="702.70" width="17.60" height="56.80" fill="#a3a3a3"/>
<rect x="456.30" y="679.50" width="18.30" height="80.00" fill="#981c23"/>
<text transform="translate(463.00,679.30) scale(1,1.08)" font-size="16" text-anchor="middle" fill="#1a1a1a">**</text>
<rect x="483.10" y="680.86" width="18.20" height="78.64" fill="#52953f"/>
<text transform="translate(490.60,679.30) scale(1,1.08)" font-size="16" text-anchor="middle" fill="#1a1a1a">**</text>
<text transform="translate(439.80,772.50) scale(1,1.08)" font-size="10.2" text-anchor="middle" fill="#1a1a1a">WT</text>
<text transform="translate(466.30,772.50) scale(1,1.08)" font-size="10.2" text-anchor="middle" fill="#1a1a1a">Mx</text>
<text transform="translate(493.20,772.50) scale(1,1.08)" font-size="10.2" text-anchor="middle" fill="#1a1a1a">Scl</text>
</svg></body></html>
